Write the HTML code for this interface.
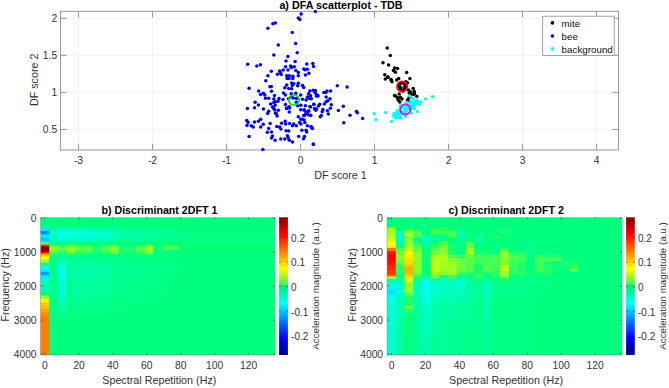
<!DOCTYPE html>
<html><head><meta charset="utf-8"><title>DFA</title><style>html,body{margin:0;padding:0;background:#fff;}svg{display:block}svg text{font-family:"Liberation Sans",sans-serif;}</style></head><body>
<svg width="669" height="388" viewBox="0 0 669 388" >
<rect width="669" height="388" fill="#fff"/>
<line x1="78.5" y1="11.3" x2="78.5" y2="150.0" stroke="#ececec" stroke-width="0.7"/>
<line x1="152.5" y1="11.3" x2="152.5" y2="150.0" stroke="#ececec" stroke-width="0.7"/>
<line x1="226.5" y1="11.3" x2="226.5" y2="150.0" stroke="#ececec" stroke-width="0.7"/>
<line x1="300.5" y1="11.3" x2="300.5" y2="150.0" stroke="#ececec" stroke-width="0.7"/>
<line x1="374.5" y1="11.3" x2="374.5" y2="150.0" stroke="#ececec" stroke-width="0.7"/>
<line x1="448.5" y1="11.3" x2="448.5" y2="150.0" stroke="#ececec" stroke-width="0.7"/>
<line x1="522.5" y1="11.3" x2="522.5" y2="150.0" stroke="#ececec" stroke-width="0.7"/>
<line x1="596.5" y1="11.3" x2="596.5" y2="150.0" stroke="#ececec" stroke-width="0.7"/>
<line x1="60.5" y1="129.5" x2="618.5" y2="129.5" stroke="#ececec" stroke-width="0.7"/>
<line x1="60.5" y1="92.4" x2="618.5" y2="92.4" stroke="#ececec" stroke-width="0.7"/>
<line x1="60.5" y1="55.3" x2="618.5" y2="55.3" stroke="#ececec" stroke-width="0.7"/>
<line x1="60.5" y1="18.2" x2="618.5" y2="18.2" stroke="#ececec" stroke-width="0.7"/>
<line x1="73.7" y1="11.3" x2="73.7" y2="150.0" stroke="#f4f4f4" stroke-width="0.7"/>
<rect x="60.5" y="11.3" width="558.0" height="138.7" fill="none" stroke="#808080" stroke-width="0.8"/>
<line x1="78.5" y1="150.0" x2="78.5" y2="143.8" stroke="#808080" stroke-width="0.8"/>
<line x1="78.5" y1="11.3" x2="78.5" y2="17.5" stroke="#808080" stroke-width="0.8"/>
<text x="78.5" y="163.7" font-size="10.3" text-anchor="middle" fill="#333">-3</text>
<line x1="152.5" y1="150.0" x2="152.5" y2="143.8" stroke="#808080" stroke-width="0.8"/>
<line x1="152.5" y1="11.3" x2="152.5" y2="17.5" stroke="#808080" stroke-width="0.8"/>
<text x="152.5" y="163.7" font-size="10.3" text-anchor="middle" fill="#333">-2</text>
<line x1="226.5" y1="150.0" x2="226.5" y2="143.8" stroke="#808080" stroke-width="0.8"/>
<line x1="226.5" y1="11.3" x2="226.5" y2="17.5" stroke="#808080" stroke-width="0.8"/>
<text x="226.5" y="163.7" font-size="10.3" text-anchor="middle" fill="#333">-1</text>
<line x1="300.5" y1="150.0" x2="300.5" y2="143.8" stroke="#808080" stroke-width="0.8"/>
<line x1="300.5" y1="11.3" x2="300.5" y2="17.5" stroke="#808080" stroke-width="0.8"/>
<text x="300.5" y="163.7" font-size="10.3" text-anchor="middle" fill="#333">0</text>
<line x1="374.5" y1="150.0" x2="374.5" y2="143.8" stroke="#808080" stroke-width="0.8"/>
<line x1="374.5" y1="11.3" x2="374.5" y2="17.5" stroke="#808080" stroke-width="0.8"/>
<text x="374.5" y="163.7" font-size="10.3" text-anchor="middle" fill="#333">1</text>
<line x1="448.5" y1="150.0" x2="448.5" y2="143.8" stroke="#808080" stroke-width="0.8"/>
<line x1="448.5" y1="11.3" x2="448.5" y2="17.5" stroke="#808080" stroke-width="0.8"/>
<text x="448.5" y="163.7" font-size="10.3" text-anchor="middle" fill="#333">2</text>
<line x1="522.5" y1="150.0" x2="522.5" y2="143.8" stroke="#808080" stroke-width="0.8"/>
<line x1="522.5" y1="11.3" x2="522.5" y2="17.5" stroke="#808080" stroke-width="0.8"/>
<text x="522.5" y="163.7" font-size="10.3" text-anchor="middle" fill="#333">3</text>
<line x1="596.5" y1="150.0" x2="596.5" y2="143.8" stroke="#808080" stroke-width="0.8"/>
<line x1="596.5" y1="11.3" x2="596.5" y2="17.5" stroke="#808080" stroke-width="0.8"/>
<text x="596.5" y="163.7" font-size="10.3" text-anchor="middle" fill="#333">4</text>
<line x1="60.5" y1="129.5" x2="66.7" y2="129.5" stroke="#808080" stroke-width="0.8"/>
<line x1="618.5" y1="129.5" x2="612.3" y2="129.5" stroke="#808080" stroke-width="0.8"/>
<text x="57.2" y="133.2" font-size="10.3" text-anchor="end" fill="#333">0.5</text>
<line x1="60.5" y1="92.4" x2="66.7" y2="92.4" stroke="#808080" stroke-width="0.8"/>
<line x1="618.5" y1="92.4" x2="612.3" y2="92.4" stroke="#808080" stroke-width="0.8"/>
<text x="57.2" y="96.1" font-size="10.3" text-anchor="end" fill="#333">1</text>
<line x1="60.5" y1="55.3" x2="66.7" y2="55.3" stroke="#808080" stroke-width="0.8"/>
<line x1="618.5" y1="55.3" x2="612.3" y2="55.3" stroke="#808080" stroke-width="0.8"/>
<text x="57.2" y="59.0" font-size="10.3" text-anchor="end" fill="#333">1.5</text>
<line x1="60.5" y1="18.2" x2="66.7" y2="18.2" stroke="#808080" stroke-width="0.8"/>
<line x1="618.5" y1="18.2" x2="612.3" y2="18.2" stroke="#808080" stroke-width="0.8"/>
<text x="57.2" y="21.9" font-size="10.3" text-anchor="end" fill="#333">2</text>
<text x="341" y="8.5" font-size="10.75" font-weight="bold" text-anchor="middle" fill="#000">a) DFA scatterplot - TDB</text>
<text x="340.5" y="178.6" font-size="10.75" text-anchor="middle" fill="#333">DF score 1</text>
<text transform="translate(37.8,79.8) rotate(-90)" font-size="10.75" text-anchor="middle" fill="#333">DF score 2</text>
<clipPath id="ca"><rect x="60.5" y="9.3" width="558.0" height="142.7"/></clipPath>
<g clip-path="url(#ca)">
<circle cx="387.2" cy="47.9" r="1.75" fill="#000"/>
<circle cx="390.3" cy="55.5" r="1.75" fill="#000"/>
<circle cx="383.0" cy="62.8" r="1.75" fill="#000"/>
<circle cx="388.6" cy="65.1" r="1.75" fill="#000"/>
<circle cx="394.6" cy="68.1" r="1.75" fill="#000"/>
<circle cx="397.5" cy="68.4" r="1.75" fill="#000"/>
<circle cx="393.4" cy="70.4" r="1.75" fill="#000"/>
<circle cx="395.4" cy="72.3" r="1.75" fill="#000"/>
<circle cx="406.7" cy="72.5" r="1.75" fill="#000"/>
<circle cx="384.8" cy="74.8" r="1.75" fill="#000"/>
<circle cx="387.9" cy="76.9" r="1.75" fill="#000"/>
<circle cx="385.3" cy="79.0" r="1.75" fill="#000"/>
<circle cx="391.0" cy="79.5" r="1.75" fill="#000"/>
<circle cx="392.0" cy="81.8" r="1.75" fill="#000"/>
<circle cx="398.7" cy="78.4" r="1.75" fill="#000"/>
<circle cx="396.7" cy="80.0" r="1.75" fill="#000"/>
<circle cx="409.9" cy="78.4" r="1.75" fill="#000"/>
<circle cx="405.9" cy="81.8" r="1.75" fill="#000"/>
<circle cx="407.5" cy="82.8" r="1.75" fill="#000"/>
<circle cx="399.2" cy="85.4" r="1.75" fill="#000"/>
<circle cx="404.9" cy="85.4" r="1.75" fill="#000"/>
<circle cx="400.8" cy="87.5" r="1.75" fill="#000"/>
<circle cx="404.4" cy="88.5" r="1.75" fill="#000"/>
<circle cx="402.8" cy="90.6" r="1.75" fill="#000"/>
<circle cx="408.5" cy="90.0" r="1.75" fill="#000"/>
<circle cx="413.2" cy="88.5" r="1.75" fill="#000"/>
<circle cx="410.6" cy="92.1" r="1.75" fill="#000"/>
<circle cx="414.2" cy="91.6" r="1.75" fill="#000"/>
<circle cx="413.7" cy="94.2" r="1.75" fill="#000"/>
<circle cx="411.1" cy="94.7" r="1.75" fill="#000"/>
<circle cx="416.8" cy="96.2" r="1.75" fill="#000"/>
<circle cx="399.2" cy="94.0" r="1.75" fill="#000"/>
<circle cx="395.6" cy="95.9" r="1.75" fill="#000"/>
<circle cx="397.5" cy="97.8" r="1.75" fill="#000"/>
<circle cx="400.3" cy="97.3" r="1.75" fill="#000"/>
<circle cx="402.0" cy="99.0" r="1.75" fill="#000"/>
<circle cx="398.2" cy="100.0" r="1.75" fill="#000"/>
<circle cx="399.8" cy="101.9" r="1.75" fill="#000"/>
<circle cx="409.0" cy="97.8" r="1.75" fill="#000"/>
<circle cx="407.5" cy="100.0" r="1.75" fill="#000"/>
<circle cx="410.1" cy="101.9" r="1.75" fill="#000"/>
<circle cx="409.2" cy="93.0" r="1.75" fill="#000"/>
<circle cx="414.3" cy="93.5" r="1.75" fill="#000"/>
<circle cx="394.5" cy="95.4" r="1.75" fill="#000"/>
<circle cx="388.0" cy="77.3" r="1.75" fill="#000"/>
<circle cx="391.2" cy="79.9" r="1.75" fill="#000"/>
<circle cx="399.6" cy="83.6" r="1.75" fill="#000"/>
<circle cx="404.6" cy="83.8" r="1.75" fill="#000"/>
<circle cx="400.2" cy="89.2" r="1.75" fill="#000"/>
<circle cx="405.2" cy="88.6" r="1.75" fill="#000"/>
<circle cx="402.2" cy="83.0" r="1.75" fill="#000"/>
<circle cx="399.0" cy="87.0" r="1.75" fill="#000"/>
<circle cx="405.5" cy="86.3" r="1.75" fill="#000"/>
<circle cx="403.0" cy="90.9" r="1.75" fill="#000"/>
<circle cx="315.3" cy="11.5" r="1.75" fill="#0000ff"/>
<circle cx="301.2" cy="14.0" r="1.75" fill="#0000ff"/>
<circle cx="298.3" cy="17.9" r="1.75" fill="#0000ff"/>
<circle cx="299.8" cy="19.4" r="1.75" fill="#0000ff"/>
<circle cx="272.8" cy="23.7" r="1.75" fill="#0000ff"/>
<circle cx="275.3" cy="23.1" r="1.75" fill="#0000ff"/>
<circle cx="267.9" cy="28.3" r="1.75" fill="#0000ff"/>
<circle cx="292.3" cy="32.6" r="1.75" fill="#0000ff"/>
<circle cx="295.6" cy="43.4" r="1.75" fill="#0000ff"/>
<circle cx="278.3" cy="45.0" r="1.75" fill="#0000ff"/>
<circle cx="297.2" cy="52.7" r="1.75" fill="#0000ff"/>
<circle cx="273.8" cy="54.9" r="1.75" fill="#0000ff"/>
<circle cx="287.9" cy="56.4" r="1.75" fill="#0000ff"/>
<circle cx="286.0" cy="61.0" r="1.75" fill="#0000ff"/>
<circle cx="295.1" cy="61.6" r="1.75" fill="#0000ff"/>
<circle cx="247.7" cy="64.2" r="1.75" fill="#0000ff"/>
<circle cx="256.8" cy="66.1" r="1.75" fill="#0000ff"/>
<circle cx="260.4" cy="64.8" r="1.75" fill="#0000ff"/>
<circle cx="306.8" cy="63.9" r="1.75" fill="#0000ff"/>
<circle cx="312.8" cy="63.5" r="1.75" fill="#0000ff"/>
<circle cx="313.5" cy="66.6" r="1.75" fill="#0000ff"/>
<circle cx="285.6" cy="66.8" r="1.75" fill="#0000ff"/>
<circle cx="290.6" cy="66.1" r="1.75" fill="#0000ff"/>
<circle cx="294.2" cy="66.8" r="1.75" fill="#0000ff"/>
<circle cx="303.7" cy="69.1" r="1.75" fill="#0000ff"/>
<circle cx="307.4" cy="69.3" r="1.75" fill="#0000ff"/>
<circle cx="283.2" cy="70.0" r="1.75" fill="#0000ff"/>
<circle cx="288.0" cy="70.0" r="1.75" fill="#0000ff"/>
<circle cx="295.8" cy="70.4" r="1.75" fill="#0000ff"/>
<circle cx="279.6" cy="71.0" r="1.75" fill="#0000ff"/>
<circle cx="271.3" cy="71.3" r="1.75" fill="#0000ff"/>
<circle cx="298.3" cy="72.6" r="1.75" fill="#0000ff"/>
<circle cx="308.9" cy="73.2" r="1.75" fill="#0000ff"/>
<circle cx="277.4" cy="74.2" r="1.75" fill="#0000ff"/>
<circle cx="281.2" cy="74.5" r="1.75" fill="#0000ff"/>
<circle cx="305.4" cy="75.1" r="1.75" fill="#0000ff"/>
<circle cx="267.9" cy="75.8" r="1.75" fill="#0000ff"/>
<circle cx="286.7" cy="75.8" r="1.75" fill="#0000ff"/>
<circle cx="289.3" cy="75.8" r="1.75" fill="#0000ff"/>
<circle cx="292.9" cy="76.2" r="1.75" fill="#0000ff"/>
<circle cx="298.3" cy="75.8" r="1.75" fill="#0000ff"/>
<circle cx="287.1" cy="78.4" r="1.75" fill="#0000ff"/>
<circle cx="289.1" cy="78.6" r="1.75" fill="#0000ff"/>
<circle cx="292.8" cy="78.6" r="1.75" fill="#0000ff"/>
<circle cx="265.8" cy="80.7" r="1.75" fill="#0000ff"/>
<circle cx="291.6" cy="82.9" r="1.75" fill="#0000ff"/>
<circle cx="293.8" cy="83.8" r="1.75" fill="#0000ff"/>
<circle cx="298.3" cy="83.3" r="1.75" fill="#0000ff"/>
<circle cx="286.7" cy="85.1" r="1.75" fill="#0000ff"/>
<circle cx="292.3" cy="85.5" r="1.75" fill="#0000ff"/>
<circle cx="297.7" cy="85.8" r="1.75" fill="#0000ff"/>
<circle cx="302.5" cy="85.5" r="1.75" fill="#0000ff"/>
<circle cx="270.0" cy="86.7" r="1.75" fill="#0000ff"/>
<circle cx="271.3" cy="86.4" r="1.75" fill="#0000ff"/>
<circle cx="303.7" cy="87.4" r="1.75" fill="#0000ff"/>
<circle cx="249.1" cy="88.3" r="1.75" fill="#0000ff"/>
<circle cx="284.8" cy="87.8" r="1.75" fill="#0000ff"/>
<circle cx="288.7" cy="88.4" r="1.75" fill="#0000ff"/>
<circle cx="291.6" cy="88.7" r="1.75" fill="#0000ff"/>
<circle cx="258.6" cy="91.0" r="1.75" fill="#0000ff"/>
<circle cx="271.5" cy="91.3" r="1.75" fill="#0000ff"/>
<circle cx="309.9" cy="91.0" r="1.75" fill="#0000ff"/>
<circle cx="313.2" cy="90.2" r="1.75" fill="#0000ff"/>
<circle cx="283.5" cy="92.9" r="1.75" fill="#0000ff"/>
<circle cx="263.3" cy="93.2" r="1.75" fill="#0000ff"/>
<circle cx="260.6" cy="94.5" r="1.75" fill="#0000ff"/>
<circle cx="285.4" cy="95.1" r="1.75" fill="#0000ff"/>
<circle cx="274.5" cy="95.4" r="1.75" fill="#0000ff"/>
<circle cx="264.8" cy="95.1" r="1.75" fill="#0000ff"/>
<circle cx="300.7" cy="94.9" r="1.75" fill="#0000ff"/>
<circle cx="308.6" cy="93.8" r="1.75" fill="#0000ff"/>
<circle cx="295.8" cy="93.2" r="1.75" fill="#0000ff"/>
<circle cx="291.2" cy="93.8" r="1.75" fill="#0000ff"/>
<circle cx="265.5" cy="98.3" r="1.75" fill="#0000ff"/>
<circle cx="268.7" cy="98.3" r="1.75" fill="#0000ff"/>
<circle cx="273.8" cy="99.0" r="1.75" fill="#0000ff"/>
<circle cx="307.4" cy="97.1" r="1.75" fill="#0000ff"/>
<circle cx="310.6" cy="95.8" r="1.75" fill="#0000ff"/>
<circle cx="315.1" cy="92.5" r="1.75" fill="#0000ff"/>
<circle cx="279.0" cy="98.5" r="1.75" fill="#0000ff"/>
<circle cx="283.0" cy="99.5" r="1.75" fill="#0000ff"/>
<circle cx="288.5" cy="98.8" r="1.75" fill="#0000ff"/>
<circle cx="297.5" cy="98.2" r="1.75" fill="#0000ff"/>
<circle cx="302.5" cy="99.3" r="1.75" fill="#0000ff"/>
<circle cx="255.1" cy="102.3" r="1.75" fill="#0000ff"/>
<circle cx="258.4" cy="104.9" r="1.75" fill="#0000ff"/>
<circle cx="270.6" cy="103.9" r="1.75" fill="#0000ff"/>
<circle cx="273.8" cy="102.6" r="1.75" fill="#0000ff"/>
<circle cx="275.1" cy="105.2" r="1.75" fill="#0000ff"/>
<circle cx="272.5" cy="107.1" r="1.75" fill="#0000ff"/>
<circle cx="247.4" cy="108.4" r="1.75" fill="#0000ff"/>
<circle cx="254.5" cy="107.7" r="1.75" fill="#0000ff"/>
<circle cx="263.5" cy="109.0" r="1.75" fill="#0000ff"/>
<circle cx="285.4" cy="104.5" r="1.75" fill="#0000ff"/>
<circle cx="286.7" cy="108.4" r="1.75" fill="#0000ff"/>
<circle cx="289.6" cy="108.0" r="1.75" fill="#0000ff"/>
<circle cx="289.3" cy="111.9" r="1.75" fill="#0000ff"/>
<circle cx="268.7" cy="111.3" r="1.75" fill="#0000ff"/>
<circle cx="267.6" cy="113.5" r="1.75" fill="#0000ff"/>
<circle cx="274.5" cy="109.7" r="1.75" fill="#0000ff"/>
<circle cx="278.3" cy="110.3" r="1.75" fill="#0000ff"/>
<circle cx="275.4" cy="112.9" r="1.75" fill="#0000ff"/>
<circle cx="277.1" cy="116.1" r="1.75" fill="#0000ff"/>
<circle cx="297.7" cy="105.8" r="1.75" fill="#0000ff"/>
<circle cx="300.9" cy="105.2" r="1.75" fill="#0000ff"/>
<circle cx="300.7" cy="109.7" r="1.75" fill="#0000ff"/>
<circle cx="304.1" cy="109.7" r="1.75" fill="#0000ff"/>
<circle cx="305.4" cy="105.8" r="1.75" fill="#0000ff"/>
<circle cx="307.4" cy="112.9" r="1.75" fill="#0000ff"/>
<circle cx="309.9" cy="106.4" r="1.75" fill="#0000ff"/>
<circle cx="313.8" cy="104.5" r="1.75" fill="#0000ff"/>
<circle cx="314.5" cy="109.0" r="1.75" fill="#0000ff"/>
<circle cx="308.6" cy="111.0" r="1.75" fill="#0000ff"/>
<circle cx="310.6" cy="115.5" r="1.75" fill="#0000ff"/>
<circle cx="304.1" cy="115.5" r="1.75" fill="#0000ff"/>
<circle cx="298.3" cy="116.8" r="1.75" fill="#0000ff"/>
<circle cx="300.9" cy="119.3" r="1.75" fill="#0000ff"/>
<circle cx="304.1" cy="120.0" r="1.75" fill="#0000ff"/>
<circle cx="246.8" cy="120.6" r="1.75" fill="#0000ff"/>
<circle cx="248.1" cy="122.6" r="1.75" fill="#0000ff"/>
<circle cx="247.0" cy="125.5" r="1.75" fill="#0000ff"/>
<circle cx="254.5" cy="121.9" r="1.75" fill="#0000ff"/>
<circle cx="258.4" cy="121.3" r="1.75" fill="#0000ff"/>
<circle cx="260.7" cy="119.3" r="1.75" fill="#0000ff"/>
<circle cx="263.3" cy="124.2" r="1.75" fill="#0000ff"/>
<circle cx="251.3" cy="125.8" r="1.75" fill="#0000ff"/>
<circle cx="253.2" cy="127.1" r="1.75" fill="#0000ff"/>
<circle cx="260.7" cy="127.1" r="1.75" fill="#0000ff"/>
<circle cx="270.2" cy="123.5" r="1.75" fill="#0000ff"/>
<circle cx="285.2" cy="121.3" r="1.75" fill="#0000ff"/>
<circle cx="281.6" cy="123.2" r="1.75" fill="#0000ff"/>
<circle cx="285.7" cy="123.9" r="1.75" fill="#0000ff"/>
<circle cx="289.6" cy="123.5" r="1.75" fill="#0000ff"/>
<circle cx="293.8" cy="123.9" r="1.75" fill="#0000ff"/>
<circle cx="292.5" cy="125.8" r="1.75" fill="#0000ff"/>
<circle cx="296.4" cy="125.8" r="1.75" fill="#0000ff"/>
<circle cx="299.6" cy="122.6" r="1.75" fill="#0000ff"/>
<circle cx="300.9" cy="123.9" r="1.75" fill="#0000ff"/>
<circle cx="304.8" cy="122.6" r="1.75" fill="#0000ff"/>
<circle cx="307.4" cy="125.8" r="1.75" fill="#0000ff"/>
<circle cx="311.2" cy="127.1" r="1.75" fill="#0000ff"/>
<circle cx="312.5" cy="128.4" r="1.75" fill="#0000ff"/>
<circle cx="276.7" cy="126.4" r="1.75" fill="#0000ff"/>
<circle cx="279.6" cy="127.1" r="1.75" fill="#0000ff"/>
<circle cx="280.9" cy="129.0" r="1.75" fill="#0000ff"/>
<circle cx="268.7" cy="128.4" r="1.75" fill="#0000ff"/>
<circle cx="267.4" cy="132.2" r="1.75" fill="#0000ff"/>
<circle cx="271.5" cy="132.0" r="1.75" fill="#0000ff"/>
<circle cx="286.1" cy="130.7" r="1.75" fill="#0000ff"/>
<circle cx="288.7" cy="130.9" r="1.75" fill="#0000ff"/>
<circle cx="301.9" cy="130.3" r="1.75" fill="#0000ff"/>
<circle cx="306.1" cy="130.3" r="1.75" fill="#0000ff"/>
<circle cx="306.7" cy="132.0" r="1.75" fill="#0000ff"/>
<circle cx="249.1" cy="136.5" r="1.75" fill="#0000ff"/>
<circle cx="272.5" cy="136.1" r="1.75" fill="#0000ff"/>
<circle cx="271.5" cy="138.0" r="1.75" fill="#0000ff"/>
<circle cx="275.1" cy="140.2" r="1.75" fill="#0000ff"/>
<circle cx="280.7" cy="139.1" r="1.75" fill="#0000ff"/>
<circle cx="284.8" cy="139.1" r="1.75" fill="#0000ff"/>
<circle cx="287.4" cy="135.8" r="1.75" fill="#0000ff"/>
<circle cx="288.3" cy="138.0" r="1.75" fill="#0000ff"/>
<circle cx="289.3" cy="140.2" r="1.75" fill="#0000ff"/>
<circle cx="292.5" cy="141.9" r="1.75" fill="#0000ff"/>
<circle cx="298.7" cy="136.5" r="1.75" fill="#0000ff"/>
<circle cx="304.5" cy="136.4" r="1.75" fill="#0000ff"/>
<circle cx="303.5" cy="138.7" r="1.75" fill="#0000ff"/>
<circle cx="313.5" cy="144.5" r="1.75" fill="#0000ff"/>
<circle cx="262.9" cy="149.4" r="1.75" fill="#0000ff"/>
<circle cx="304.2" cy="110.3" r="1.75" fill="#0000ff"/>
<circle cx="306.1" cy="111.9" r="1.75" fill="#0000ff"/>
<circle cx="308.7" cy="110.9" r="1.75" fill="#0000ff"/>
<circle cx="305.5" cy="114.1" r="1.75" fill="#0000ff"/>
<circle cx="308.0" cy="114.8" r="1.75" fill="#0000ff"/>
<circle cx="303.9" cy="115.4" r="1.75" fill="#0000ff"/>
<circle cx="302.3" cy="119.3" r="1.75" fill="#0000ff"/>
<circle cx="306.1" cy="99.9" r="1.75" fill="#0000ff"/>
<circle cx="309.4" cy="98.6" r="1.75" fill="#0000ff"/>
<circle cx="291.3" cy="67.6" r="1.75" fill="#0000ff"/>
<circle cx="280.3" cy="72.6" r="1.75" fill="#0000ff"/>
<circle cx="305.2" cy="69.8" r="1.75" fill="#0000ff"/>
<circle cx="293.4" cy="98.1" r="1.75" fill="#0000ff"/>
<circle cx="296.3" cy="98.4" r="1.75" fill="#0000ff"/>
<circle cx="296.3" cy="102.3" r="1.75" fill="#0000ff"/>
<circle cx="291.1" cy="97.1" r="1.75" fill="#0000ff"/>
<circle cx="273.8" cy="108.5" r="1.75" fill="#0000ff"/>
<circle cx="276.3" cy="113.6" r="1.75" fill="#0000ff"/>
<circle cx="278.0" cy="101.3" r="1.75" fill="#0000ff"/>
<circle cx="275.5" cy="101.7" r="1.75" fill="#0000ff"/>
<circle cx="289.1" cy="106.8" r="1.75" fill="#0000ff"/>
<circle cx="286.6" cy="108.1" r="1.75" fill="#0000ff"/>
<circle cx="337.3" cy="85.8" r="1.75" fill="#0000ff"/>
<circle cx="347.1" cy="87.0" r="1.75" fill="#0000ff"/>
<circle cx="315.4" cy="90.6" r="1.75" fill="#0000ff"/>
<circle cx="327.0" cy="91.0" r="1.75" fill="#0000ff"/>
<circle cx="330.6" cy="91.0" r="1.75" fill="#0000ff"/>
<circle cx="323.9" cy="92.5" r="1.75" fill="#0000ff"/>
<circle cx="325.7" cy="92.5" r="1.75" fill="#0000ff"/>
<circle cx="316.4" cy="94.5" r="1.75" fill="#0000ff"/>
<circle cx="317.7" cy="95.4" r="1.75" fill="#0000ff"/>
<circle cx="326.1" cy="97.1" r="1.75" fill="#0000ff"/>
<circle cx="330.0" cy="98.7" r="1.75" fill="#0000ff"/>
<circle cx="311.3" cy="98.7" r="1.75" fill="#0000ff"/>
<circle cx="316.4" cy="96.0" r="1.75" fill="#0000ff"/>
<circle cx="318.0" cy="96.0" r="1.75" fill="#0000ff"/>
<circle cx="327.8" cy="100.8" r="1.75" fill="#0000ff"/>
<circle cx="326.1" cy="101.7" r="1.75" fill="#0000ff"/>
<circle cx="324.4" cy="104.0" r="1.75" fill="#0000ff"/>
<circle cx="331.3" cy="104.7" r="1.75" fill="#0000ff"/>
<circle cx="313.9" cy="104.3" r="1.75" fill="#0000ff"/>
<circle cx="319.7" cy="104.3" r="1.75" fill="#0000ff"/>
<circle cx="318.4" cy="106.0" r="1.75" fill="#0000ff"/>
<circle cx="310.6" cy="106.9" r="1.75" fill="#0000ff"/>
<circle cx="314.9" cy="108.5" r="1.75" fill="#0000ff"/>
<circle cx="316.4" cy="108.9" r="1.75" fill="#0000ff"/>
<circle cx="315.8" cy="110.2" r="1.75" fill="#0000ff"/>
<circle cx="322.9" cy="109.4" r="1.75" fill="#0000ff"/>
<circle cx="330.4" cy="108.3" r="1.75" fill="#0000ff"/>
<circle cx="327.4" cy="110.7" r="1.75" fill="#0000ff"/>
<circle cx="322.2" cy="111.8" r="1.75" fill="#0000ff"/>
<circle cx="328.3" cy="114.1" r="1.75" fill="#0000ff"/>
<circle cx="321.3" cy="115.6" r="1.75" fill="#0000ff"/>
<circle cx="320.3" cy="116.7" r="1.75" fill="#0000ff"/>
<circle cx="310.6" cy="115.2" r="1.75" fill="#0000ff"/>
<circle cx="343.3" cy="106.3" r="1.75" fill="#0000ff"/>
<circle cx="338.4" cy="110.5" r="1.75" fill="#0000ff"/>
<circle cx="356.4" cy="111.4" r="1.75" fill="#0000ff"/>
<circle cx="357.4" cy="112.8" r="1.75" fill="#0000ff"/>
<circle cx="350.0" cy="115.2" r="1.75" fill="#0000ff"/>
<circle cx="362.6" cy="118.6" r="1.75" fill="#0000ff"/>
<circle cx="343.8" cy="122.7" r="1.75" fill="#0000ff"/>
<circle cx="311.0" cy="126.6" r="1.75" fill="#0000ff"/>
<circle cx="312.3" cy="128.3" r="1.75" fill="#0000ff"/>
<circle cx="313.2" cy="144.0" r="1.75" fill="#0000ff"/>
<circle cx="374.3" cy="113.8" r="1.75" fill="#00ffff"/>
<circle cx="385.7" cy="112.4" r="1.75" fill="#00ffff"/>
<circle cx="376.0" cy="119.8" r="1.75" fill="#00ffff"/>
<circle cx="391.6" cy="121.4" r="1.75" fill="#00ffff"/>
<circle cx="432.5" cy="96.7" r="1.75" fill="#00ffff"/>
<circle cx="425.5" cy="99.0" r="1.75" fill="#00ffff"/>
<circle cx="420.8" cy="102.3" r="1.75" fill="#00ffff"/>
<circle cx="417.2" cy="111.6" r="1.75" fill="#00ffff"/>
<circle cx="409.6" cy="96.1" r="1.75" fill="#00ffff"/>
<circle cx="413.3" cy="98.4" r="1.75" fill="#00ffff"/>
<circle cx="416.8" cy="100.4" r="1.75" fill="#00ffff"/>
<circle cx="407.0" cy="102.4" r="1.75" fill="#00ffff"/>
<circle cx="394.8" cy="113.7" r="1.75" fill="#00ffff"/>
<circle cx="393.7" cy="116.2" r="1.75" fill="#00ffff"/>
<circle cx="395.8" cy="117.8" r="1.75" fill="#00ffff"/>
<circle cx="400.4" cy="117.8" r="1.75" fill="#00ffff"/>
<circle cx="405.6" cy="116.2" r="1.75" fill="#00ffff"/>
<circle cx="411.3" cy="113.1" r="1.75" fill="#00ffff"/>
<circle cx="397.3" cy="111.1" r="1.75" fill="#00ffff"/>
<circle cx="400.9" cy="105.4" r="1.75" fill="#00ffff"/>
<circle cx="406.1" cy="102.8" r="1.75" fill="#00ffff"/>
<circle cx="415.4" cy="103.3" r="1.75" fill="#00ffff"/>
<circle cx="417.4" cy="100.8" r="1.75" fill="#00ffff"/>
<circle cx="414.3" cy="106.4" r="1.75" fill="#00ffff"/>
<circle cx="411.3" cy="108.5" r="1.75" fill="#00ffff"/>
<circle cx="402.7" cy="106.7" r="1.75" fill="#00ffff"/>
<circle cx="404.3" cy="108.5" r="1.75" fill="#00ffff"/>
<circle cx="405.6" cy="108.3" r="1.75" fill="#00ffff"/>
<circle cx="405.9" cy="108.5" r="1.75" fill="#00ffff"/>
<circle cx="409.1" cy="107.4" r="1.75" fill="#00ffff"/>
<circle cx="401.0" cy="111.6" r="1.75" fill="#00ffff"/>
<circle cx="397.2" cy="116.5" r="1.75" fill="#00ffff"/>
<circle cx="393.9" cy="114.1" r="1.75" fill="#00ffff"/>
<circle cx="418.6" cy="104.0" r="1.75" fill="#00ffff"/>
<circle cx="408.3" cy="107.0" r="1.75" fill="#00ffff"/>
<circle cx="399.4" cy="116.5" r="1.75" fill="#00ffff"/>
<circle cx="396.0" cy="116.3" r="1.75" fill="#00ffff"/>
<circle cx="398.9" cy="114.1" r="1.75" fill="#00ffff"/>
<circle cx="405.4" cy="110.2" r="1.75" fill="#00ffff"/>
<circle cx="405.3" cy="111.2" r="1.75" fill="#00ffff"/>
<circle cx="408.2" cy="105.5" r="1.75" fill="#00ffff"/>
<circle cx="405.4" cy="108.3" r="1.75" fill="#00ffff"/>
<circle cx="399.9" cy="111.2" r="1.75" fill="#00ffff"/>
<circle cx="419.5" cy="104.6" r="1.75" fill="#00ffff"/>
<circle cx="410.7" cy="105.9" r="1.75" fill="#00ffff"/>
<circle cx="401.9" cy="112.3" r="1.75" fill="#00ffff"/>
<circle cx="397.0" cy="117.2" r="1.75" fill="#00ffff"/>
<circle cx="410.5" cy="102.6" r="1.75" fill="#00ffff"/>
<circle cx="404.6" cy="112.8" r="1.75" fill="#00ffff"/>
<circle cx="416.6" cy="102.2" r="1.75" fill="#00ffff"/>
<circle cx="399.3" cy="113.7" r="1.75" fill="#00ffff"/>
<circle cx="412.5" cy="98.5" r="1.75" fill="#00ffff"/>
<circle cx="404.2" cy="111.7" r="1.75" fill="#00ffff"/>
<circle cx="394.9" cy="114.0" r="1.75" fill="#00ffff"/>
<circle cx="399.4" cy="110.8" r="1.75" fill="#00ffff"/>
<circle cx="395.1" cy="113.6" r="1.75" fill="#00ffff"/>
<circle cx="414.3" cy="108.8" r="1.75" fill="#00ffff"/>
<circle cx="397.2" cy="115.2" r="1.75" fill="#00ffff"/>
<circle cx="396.4" cy="116.8" r="1.75" fill="#00ffff"/>
<circle cx="413.4" cy="105.5" r="1.75" fill="#00ffff"/>
<circle cx="406.0" cy="111.9" r="1.75" fill="#00ffff"/>
<circle cx="398.8" cy="113.9" r="1.75" fill="#00ffff"/>
<circle cx="408.7" cy="106.2" r="1.75" fill="#00ffff"/>
<circle cx="396.5" cy="114.2" r="1.75" fill="#00ffff"/>
<circle cx="401.1" cy="113.3" r="1.75" fill="#00ffff"/>
<circle cx="417.1" cy="102.4" r="1.75" fill="#00ffff"/>
<circle cx="414.0" cy="102.0" r="1.75" fill="#00ffff"/>
<circle cx="397.7" cy="111.3" r="1.75" fill="#00ffff"/>
<circle cx="410.5" cy="109.0" r="1.75" fill="#00ffff"/>
<circle cx="397.5" cy="116.5" r="1.75" fill="#00ffff"/>
<circle cx="400.4" cy="112.9" r="1.75" fill="#00ffff"/>
<circle cx="411.8" cy="104.4" r="1.75" fill="#00ffff"/>
<circle cx="397.0" cy="117.0" r="1.75" fill="#00ffff"/>
<circle cx="395.9" cy="114.6" r="1.75" fill="#00ffff"/>
<circle cx="407.9" cy="107.1" r="1.75" fill="#00ffff"/>
<circle cx="400.5" cy="107.4" r="1.75" fill="#00ffff"/>
<circle cx="406.4" cy="110.7" r="1.75" fill="#00ffff"/>
<circle cx="408.2" cy="108.8" r="1.75" fill="#00ffff"/>
<circle cx="397.5" cy="113.9" r="1.75" fill="#00ffff"/>
<circle cx="415.7" cy="103.4" r="1.75" fill="#00ffff"/>
<circle cx="398.1" cy="113.0" r="1.75" fill="#00ffff"/>
<circle cx="412.2" cy="106.5" r="1.75" fill="#00ffff"/>
<circle cx="416.1" cy="101.9" r="1.75" fill="#00ffff"/>
<circle cx="413.9" cy="102.0" r="1.75" fill="#00ffff"/>
<circle cx="396.2" cy="114.4" r="1.75" fill="#00ffff"/>
<circle cx="396.2" cy="117.5" r="1.75" fill="#00ffff"/>
<circle cx="410.5" cy="105.8" r="1.75" fill="#00ffff"/>
<circle cx="401.1" cy="114.0" r="1.75" fill="#00ffff"/>
<circle cx="400.0" cy="110.6" r="1.75" fill="#00ffff"/>
<circle cx="398.5" cy="114.2" r="1.75" fill="#00ffff"/>
<circle cx="399.4" cy="112.9" r="1.75" fill="#00ffff"/>
<circle cx="408.2" cy="109.6" r="1.75" fill="#00ffff"/>
<circle cx="399.8" cy="110.9" r="1.75" fill="#00ffff"/>
<circle cx="415.7" cy="102.9" r="1.75" fill="#00ffff"/>
<circle cx="400.9" cy="113.1" r="1.75" fill="#00ffff"/>
</g>
<circle cx="402.2" cy="86.6" r="5.0" fill="none" stroke="#ff0000" stroke-width="2"/>
<circle cx="293.9" cy="100.0" r="5.2" fill="none" stroke="#00ea00" stroke-width="1.8"/>
<circle cx="405.4" cy="109.6" r="5.0" fill="none" stroke="#ff00ff" stroke-width="2"/>
<rect x="542.7" y="16.2" width="71.5" height="39.2" fill="#fff" stroke="#8c8c8c" stroke-width="0.8"/>
<circle cx="552.4" cy="22.9" r="1.8" fill="#000"/>
<text x="561.6" y="26.6" font-size="9.8" fill="#111">mite</text>
<circle cx="552.4" cy="36.0" r="1.8" fill="#0000ff"/>
<text x="561.6" y="39.7" font-size="9.8" fill="#111">bee</text>
<circle cx="552.4" cy="48.9" r="1.8" fill="#00ffff"/>
<text x="561.6" y="52.6" font-size="9.8" fill="#111">background</text>
<clipPath id="ch1"><rect x="40.6" y="217.3" width="234.60" height="137.70"/></clipPath>
<filter id="bl1" x="-5%" y="-5%" width="110%" height="110%"><feGaussianBlur stdDeviation="0.7"/></filter>
<g clip-path="url(#ch1)"><g filter="url(#bl1)">
<rect x="36.6" y="213.3" width="242.60" height="145.70" fill="#00ff7d"/>
<rect x="36.60" y="213.30" width="13.39" height="11.50" fill="#00ff7d"/>
<rect x="36.60" y="224.10" width="13.39" height="4.10" fill="#00ff86"/>
<rect x="36.60" y="227.50" width="13.39" height="4.10" fill="#00edff"/>
<rect x="36.60" y="230.90" width="13.39" height="4.10" fill="#0089ff"/>
<rect x="36.60" y="234.30" width="13.39" height="4.10" fill="#00edff"/>
<rect x="36.60" y="237.70" width="13.39" height="4.10" fill="#00c9ff"/>
<rect x="36.60" y="241.10" width="13.39" height="2.40" fill="#00ffc7"/>
<rect x="36.60" y="242.80" width="13.39" height="2.40" fill="#78ff34"/>
<rect x="36.60" y="244.50" width="13.39" height="2.40" fill="#ff2e00"/>
<rect x="36.60" y="246.20" width="13.39" height="2.40" fill="#920000"/>
<rect x="36.60" y="247.90" width="13.39" height="2.40" fill="#800000"/>
<rect x="36.60" y="249.60" width="13.39" height="2.40" fill="#920000"/>
<rect x="36.60" y="251.30" width="13.39" height="2.40" fill="#f60000"/>
<rect x="36.60" y="253.00" width="13.39" height="2.40" fill="#ff6e00"/>
<rect x="36.60" y="254.70" width="13.39" height="2.40" fill="#ffc900"/>
<rect x="36.60" y="256.40" width="13.39" height="2.40" fill="#fff600"/>
<rect x="36.60" y="258.10" width="13.39" height="2.40" fill="#ffff00"/>
<rect x="36.60" y="259.80" width="13.39" height="2.40" fill="#adff1d"/>
<rect x="36.60" y="261.50" width="13.39" height="2.40" fill="#8cff28"/>
<rect x="36.60" y="263.20" width="13.39" height="2.40" fill="#00ff7d"/>
<rect x="36.60" y="264.90" width="13.39" height="2.40" fill="#00ffc7"/>
<rect x="36.60" y="266.60" width="13.39" height="2.40" fill="#00ffff"/>
<rect x="36.60" y="268.30" width="13.39" height="2.40" fill="#00f6ff"/>
<rect x="36.60" y="270.00" width="13.39" height="2.40" fill="#00f0ff"/>
<rect x="36.60" y="271.70" width="13.39" height="4.10" fill="#009bff"/>
<rect x="36.60" y="275.10" width="13.39" height="4.10" fill="#00edff"/>
<rect x="36.60" y="278.50" width="13.39" height="4.10" fill="#00ffda"/>
<rect x="36.60" y="281.90" width="13.39" height="4.10" fill="#00ffb5"/>
<rect x="36.60" y="285.30" width="13.39" height="4.10" fill="#00ffab"/>
<rect x="36.60" y="288.70" width="13.39" height="4.10" fill="#00ffb5"/>
<rect x="36.60" y="292.10" width="13.39" height="4.10" fill="#00ff7d"/>
<rect x="36.60" y="295.50" width="13.39" height="4.10" fill="#9cff22"/>
<rect x="36.60" y="298.90" width="13.39" height="4.10" fill="#fff600"/>
<rect x="36.60" y="302.30" width="13.39" height="4.10" fill="#ffd200"/>
<rect x="36.60" y="305.70" width="13.39" height="4.10" fill="#ffc000"/>
<rect x="36.60" y="309.10" width="13.39" height="4.10" fill="#ffa400"/>
<rect x="36.60" y="312.50" width="13.39" height="4.10" fill="#ff8d00"/>
<rect x="36.60" y="315.90" width="13.39" height="43.80" fill="#ff8000"/>
<rect x="49.29" y="213.30" width="9.39" height="14.90" fill="#00ff7d"/>
<rect x="49.29" y="227.50" width="9.39" height="4.10" fill="#00ff99"/>
<rect x="49.29" y="230.90" width="9.39" height="7.50" fill="#00ffc7"/>
<rect x="49.29" y="237.70" width="9.39" height="4.10" fill="#00ffbe"/>
<rect x="49.29" y="241.10" width="9.39" height="2.40" fill="#00ff99"/>
<rect x="49.29" y="242.80" width="9.39" height="2.40" fill="#00ff8b"/>
<rect x="49.29" y="244.50" width="9.39" height="2.40" fill="#28ff65"/>
<rect x="49.29" y="246.20" width="9.39" height="2.40" fill="#82ff2e"/>
<rect x="49.29" y="247.90" width="9.39" height="2.40" fill="#8fff27"/>
<rect x="49.29" y="249.60" width="9.39" height="2.40" fill="#82ff2e"/>
<rect x="49.29" y="251.30" width="9.39" height="2.40" fill="#50ff4c"/>
<rect x="49.29" y="253.00" width="9.39" height="2.40" fill="#38ff5b"/>
<rect x="49.29" y="254.70" width="9.39" height="4.10" fill="#00ff82"/>
<rect x="49.29" y="258.10" width="9.39" height="4.10" fill="#00ff87"/>
<rect x="49.29" y="261.50" width="9.39" height="4.10" fill="#00ff8c"/>
<rect x="49.29" y="264.90" width="9.39" height="14.30" fill="#00ff90"/>
<rect x="49.29" y="278.50" width="9.39" height="21.10" fill="#00ff8b"/>
<rect x="49.29" y="298.90" width="9.39" height="4.10" fill="#00ff86"/>
<rect x="49.29" y="302.30" width="9.39" height="4.10" fill="#00ff85"/>
<rect x="49.29" y="305.70" width="9.39" height="4.10" fill="#00ff83"/>
<rect x="49.29" y="309.10" width="9.39" height="4.10" fill="#00ff82"/>
<rect x="49.29" y="312.50" width="9.39" height="4.10" fill="#00ff80"/>
<rect x="49.29" y="315.90" width="9.39" height="4.10" fill="#00ff7f"/>
<rect x="49.29" y="319.30" width="9.39" height="40.40" fill="#00ff7d"/>
<rect x="57.98" y="213.30" width="9.39" height="14.90" fill="#00ff7d"/>
<rect x="57.98" y="227.50" width="9.39" height="4.10" fill="#00ffb5"/>
<rect x="57.98" y="230.90" width="9.39" height="4.10" fill="#00ffff"/>
<rect x="57.98" y="234.30" width="9.39" height="4.10" fill="#00ffec"/>
<rect x="57.98" y="237.70" width="9.39" height="4.10" fill="#00ffd1"/>
<rect x="57.98" y="241.10" width="9.39" height="2.40" fill="#00ffa2"/>
<rect x="57.98" y="242.80" width="9.39" height="2.40" fill="#00ff90"/>
<rect x="57.98" y="244.50" width="9.39" height="2.40" fill="#14ff71"/>
<rect x="57.98" y="246.20" width="9.39" height="2.40" fill="#4fff4d"/>
<rect x="57.98" y="247.90" width="9.39" height="2.40" fill="#58ff48"/>
<rect x="57.98" y="249.60" width="9.39" height="2.40" fill="#4fff4d"/>
<rect x="57.98" y="251.30" width="9.39" height="2.40" fill="#28ff65"/>
<rect x="57.98" y="253.00" width="9.39" height="2.40" fill="#1cff6c"/>
<rect x="57.98" y="254.70" width="9.39" height="4.10" fill="#00ff95"/>
<rect x="57.98" y="258.10" width="9.39" height="4.10" fill="#00ffac"/>
<rect x="57.98" y="261.50" width="9.39" height="4.10" fill="#00ffc4"/>
<rect x="57.98" y="264.90" width="9.39" height="14.30" fill="#00ffe5"/>
<rect x="57.98" y="278.50" width="9.39" height="10.90" fill="#00ffcd"/>
<rect x="57.98" y="288.70" width="9.39" height="4.10" fill="#00ffcb"/>
<rect x="57.98" y="292.10" width="9.39" height="4.10" fill="#00ffd1"/>
<rect x="57.98" y="295.50" width="9.39" height="4.10" fill="#00ffcd"/>
<rect x="57.98" y="298.90" width="9.39" height="4.10" fill="#00ffb5"/>
<rect x="57.98" y="302.30" width="9.39" height="4.10" fill="#00ffab"/>
<rect x="57.98" y="305.70" width="9.39" height="4.10" fill="#00ffa2"/>
<rect x="57.98" y="309.10" width="9.39" height="4.10" fill="#00ff99"/>
<rect x="57.98" y="312.50" width="9.39" height="4.10" fill="#00ff90"/>
<rect x="57.98" y="315.90" width="9.39" height="4.10" fill="#00ff86"/>
<rect x="57.98" y="319.30" width="9.39" height="40.40" fill="#00ff7d"/>
<rect x="66.67" y="213.30" width="9.39" height="14.90" fill="#00ff7d"/>
<rect x="66.67" y="227.50" width="9.39" height="4.10" fill="#00ffab"/>
<rect x="66.67" y="230.90" width="9.39" height="4.10" fill="#00ffe3"/>
<rect x="66.67" y="234.30" width="9.39" height="4.10" fill="#00ffda"/>
<rect x="66.67" y="237.70" width="9.39" height="4.10" fill="#00ffbe"/>
<rect x="66.67" y="241.10" width="9.39" height="2.40" fill="#00ff99"/>
<rect x="66.67" y="242.80" width="9.39" height="2.40" fill="#00ff8b"/>
<rect x="66.67" y="244.50" width="9.39" height="2.40" fill="#3cff59"/>
<rect x="66.67" y="246.20" width="9.39" height="2.40" fill="#8fff27"/>
<rect x="66.67" y="247.90" width="9.39" height="2.40" fill="#9cff22"/>
<rect x="66.67" y="249.60" width="9.39" height="2.40" fill="#8fff27"/>
<rect x="66.67" y="251.30" width="9.39" height="2.40" fill="#64ff40"/>
<rect x="66.67" y="253.00" width="9.39" height="2.40" fill="#46ff52"/>
<rect x="66.67" y="254.70" width="9.39" height="4.10" fill="#00ff86"/>
<rect x="66.67" y="258.10" width="9.39" height="4.10" fill="#00ff8e"/>
<rect x="66.67" y="261.50" width="9.39" height="4.10" fill="#00ff97"/>
<rect x="66.67" y="264.90" width="9.39" height="14.30" fill="#00ff9e"/>
<rect x="66.67" y="278.50" width="9.39" height="21.10" fill="#00ff95"/>
<rect x="66.67" y="298.90" width="9.39" height="4.10" fill="#00ff8c"/>
<rect x="66.67" y="302.30" width="9.39" height="4.10" fill="#00ff89"/>
<rect x="66.67" y="305.70" width="9.39" height="4.10" fill="#00ff87"/>
<rect x="66.67" y="309.10" width="9.39" height="4.10" fill="#00ff84"/>
<rect x="66.67" y="312.50" width="9.39" height="4.10" fill="#00ff82"/>
<rect x="66.67" y="315.90" width="9.39" height="4.10" fill="#00ff7f"/>
<rect x="66.67" y="319.30" width="9.39" height="40.40" fill="#00ff7d"/>
<rect x="75.36" y="213.30" width="9.39" height="14.90" fill="#00ff7d"/>
<rect x="75.36" y="227.50" width="9.39" height="4.10" fill="#00ffab"/>
<rect x="75.36" y="230.90" width="9.39" height="4.10" fill="#00ffec"/>
<rect x="75.36" y="234.30" width="9.39" height="4.10" fill="#00ffe3"/>
<rect x="75.36" y="237.70" width="9.39" height="4.10" fill="#00ffbe"/>
<rect x="75.36" y="241.10" width="9.39" height="2.40" fill="#00ff99"/>
<rect x="75.36" y="242.80" width="9.39" height="2.40" fill="#00ff8b"/>
<rect x="75.36" y="244.50" width="9.39" height="2.40" fill="#14ff71"/>
<rect x="75.36" y="246.20" width="9.39" height="2.40" fill="#56ff49"/>
<rect x="75.36" y="247.90" width="9.39" height="2.40" fill="#60ff43"/>
<rect x="75.36" y="249.60" width="9.39" height="2.40" fill="#56ff49"/>
<rect x="75.36" y="251.30" width="9.39" height="2.40" fill="#30ff60"/>
<rect x="75.36" y="253.00" width="9.39" height="2.40" fill="#22ff69"/>
<rect x="75.36" y="254.70" width="9.39" height="4.10" fill="#00ff88"/>
<rect x="75.36" y="258.10" width="9.39" height="4.10" fill="#00ff93"/>
<rect x="75.36" y="261.50" width="9.39" height="4.10" fill="#00ff9e"/>
<rect x="75.36" y="264.90" width="9.39" height="14.30" fill="#00ffab"/>
<rect x="75.36" y="278.50" width="9.39" height="21.10" fill="#00ff9e"/>
<rect x="75.36" y="298.90" width="9.39" height="4.10" fill="#00ff90"/>
<rect x="75.36" y="302.30" width="9.39" height="4.10" fill="#00ff8c"/>
<rect x="75.36" y="305.70" width="9.39" height="4.10" fill="#00ff89"/>
<rect x="75.36" y="309.10" width="9.39" height="4.10" fill="#00ff86"/>
<rect x="75.36" y="312.50" width="9.39" height="4.10" fill="#00ff83"/>
<rect x="75.36" y="315.90" width="9.39" height="4.10" fill="#00ff80"/>
<rect x="75.36" y="319.30" width="9.39" height="40.40" fill="#00ff7d"/>
<rect x="84.04" y="213.30" width="9.39" height="14.90" fill="#00ff7d"/>
<rect x="84.04" y="227.50" width="9.39" height="4.10" fill="#00ffab"/>
<rect x="84.04" y="230.90" width="9.39" height="7.50" fill="#00ffda"/>
<rect x="84.04" y="237.70" width="9.39" height="4.10" fill="#00ffb5"/>
<rect x="84.04" y="241.10" width="9.39" height="2.40" fill="#00ff90"/>
<rect x="84.04" y="242.80" width="9.39" height="2.40" fill="#00ff86"/>
<rect x="84.04" y="244.50" width="9.39" height="2.40" fill="#14ff71"/>
<rect x="84.04" y="246.20" width="9.39" height="2.40" fill="#56ff49"/>
<rect x="84.04" y="247.90" width="9.39" height="2.40" fill="#60ff43"/>
<rect x="84.04" y="249.60" width="9.39" height="2.40" fill="#56ff49"/>
<rect x="84.04" y="251.30" width="9.39" height="2.40" fill="#30ff60"/>
<rect x="84.04" y="253.00" width="9.39" height="2.40" fill="#22ff69"/>
<rect x="84.04" y="254.70" width="9.39" height="4.10" fill="#00ff88"/>
<rect x="84.04" y="258.10" width="9.39" height="4.10" fill="#00ff93"/>
<rect x="84.04" y="261.50" width="9.39" height="4.10" fill="#00ff9e"/>
<rect x="84.04" y="264.90" width="9.39" height="14.30" fill="#00ffab"/>
<rect x="84.04" y="278.50" width="9.39" height="21.10" fill="#00ff9e"/>
<rect x="84.04" y="298.90" width="9.39" height="4.10" fill="#00ff90"/>
<rect x="84.04" y="302.30" width="9.39" height="4.10" fill="#00ff8c"/>
<rect x="84.04" y="305.70" width="9.39" height="4.10" fill="#00ff89"/>
<rect x="84.04" y="309.10" width="9.39" height="4.10" fill="#00ff86"/>
<rect x="84.04" y="312.50" width="9.39" height="4.10" fill="#00ff83"/>
<rect x="84.04" y="315.90" width="9.39" height="4.10" fill="#00ff80"/>
<rect x="84.04" y="319.30" width="9.39" height="40.40" fill="#00ff7d"/>
<rect x="92.73" y="213.30" width="9.39" height="14.90" fill="#00ff7d"/>
<rect x="92.73" y="227.50" width="9.39" height="4.10" fill="#00ffa2"/>
<rect x="92.73" y="230.90" width="9.39" height="7.50" fill="#00ffd1"/>
<rect x="92.73" y="237.70" width="9.39" height="4.10" fill="#00ffb5"/>
<rect x="92.73" y="241.10" width="9.39" height="2.40" fill="#00ff90"/>
<rect x="92.73" y="242.80" width="9.39" height="2.40" fill="#00ff86"/>
<rect x="92.73" y="244.50" width="9.39" height="2.40" fill="#00ff7d"/>
<rect x="92.73" y="246.20" width="9.39" height="2.40" fill="#19ff6e"/>
<rect x="92.73" y="247.90" width="9.39" height="2.40" fill="#1cff6c"/>
<rect x="92.73" y="249.60" width="9.39" height="2.40" fill="#19ff6e"/>
<rect x="92.73" y="251.30" width="9.39" height="2.40" fill="#10ff73"/>
<rect x="92.73" y="253.00" width="9.39" height="2.40" fill="#0bff76"/>
<rect x="92.73" y="254.70" width="9.39" height="4.10" fill="#00ff87"/>
<rect x="92.73" y="258.10" width="9.39" height="4.10" fill="#00ff91"/>
<rect x="92.73" y="261.50" width="9.39" height="4.10" fill="#00ff9b"/>
<rect x="92.73" y="264.90" width="9.39" height="14.30" fill="#00ffa8"/>
<rect x="92.73" y="278.50" width="9.39" height="21.10" fill="#00ff9b"/>
<rect x="92.73" y="298.90" width="9.39" height="4.10" fill="#00ff8e"/>
<rect x="92.73" y="302.30" width="9.39" height="4.10" fill="#00ff8b"/>
<rect x="92.73" y="305.70" width="9.39" height="4.10" fill="#00ff88"/>
<rect x="92.73" y="309.10" width="9.39" height="4.10" fill="#00ff85"/>
<rect x="92.73" y="312.50" width="9.39" height="4.10" fill="#00ff83"/>
<rect x="92.73" y="315.90" width="9.39" height="4.10" fill="#00ff80"/>
<rect x="92.73" y="319.30" width="9.39" height="40.40" fill="#00ff7d"/>
<rect x="101.42" y="213.30" width="9.39" height="14.90" fill="#00ff7d"/>
<rect x="101.42" y="227.50" width="9.39" height="4.10" fill="#00ffa2"/>
<rect x="101.42" y="230.90" width="9.39" height="7.50" fill="#00ffd1"/>
<rect x="101.42" y="237.70" width="9.39" height="4.10" fill="#00ffab"/>
<rect x="101.42" y="241.10" width="9.39" height="2.40" fill="#00ff90"/>
<rect x="101.42" y="242.80" width="9.39" height="2.40" fill="#00ff86"/>
<rect x="101.42" y="244.50" width="9.39" height="2.40" fill="#14ff71"/>
<rect x="101.42" y="246.20" width="9.39" height="2.40" fill="#48ff51"/>
<rect x="101.42" y="247.90" width="9.39" height="2.40" fill="#50ff4c"/>
<rect x="101.42" y="249.60" width="9.39" height="2.40" fill="#48ff51"/>
<rect x="101.42" y="251.30" width="9.39" height="2.40" fill="#28ff65"/>
<rect x="101.42" y="253.00" width="9.39" height="2.40" fill="#1cff6c"/>
<rect x="101.42" y="254.70" width="9.39" height="4.10" fill="#00ff86"/>
<rect x="101.42" y="258.10" width="9.39" height="4.10" fill="#00ff8e"/>
<rect x="101.42" y="261.50" width="9.39" height="4.10" fill="#00ff97"/>
<rect x="101.42" y="264.90" width="9.39" height="14.30" fill="#00ffa4"/>
<rect x="101.42" y="278.50" width="9.39" height="21.10" fill="#00ff98"/>
<rect x="101.42" y="298.90" width="9.39" height="4.10" fill="#00ff8c"/>
<rect x="101.42" y="302.30" width="9.39" height="4.10" fill="#00ff89"/>
<rect x="101.42" y="305.70" width="9.39" height="4.10" fill="#00ff87"/>
<rect x="101.42" y="309.10" width="9.39" height="4.10" fill="#00ff84"/>
<rect x="101.42" y="312.50" width="9.39" height="4.10" fill="#00ff82"/>
<rect x="101.42" y="315.90" width="9.39" height="4.10" fill="#00ff7f"/>
<rect x="101.42" y="319.30" width="9.39" height="40.40" fill="#00ff7d"/>
<rect x="110.11" y="213.30" width="9.39" height="14.90" fill="#00ff7d"/>
<rect x="110.11" y="227.50" width="9.39" height="4.10" fill="#00ff99"/>
<rect x="110.11" y="230.90" width="9.39" height="7.50" fill="#00ffbe"/>
<rect x="110.11" y="237.70" width="9.39" height="4.10" fill="#00ffa2"/>
<rect x="110.11" y="241.10" width="9.39" height="2.40" fill="#00ff86"/>
<rect x="110.11" y="242.80" width="9.39" height="2.40" fill="#00ff82"/>
<rect x="110.11" y="244.50" width="9.39" height="2.40" fill="#30ff60"/>
<rect x="110.11" y="246.20" width="9.39" height="2.40" fill="#82ff2e"/>
<rect x="110.11" y="247.90" width="9.39" height="2.40" fill="#8fff27"/>
<rect x="110.11" y="249.60" width="9.39" height="2.40" fill="#82ff2e"/>
<rect x="110.11" y="251.30" width="9.39" height="2.40" fill="#64ff40"/>
<rect x="110.11" y="253.00" width="9.39" height="2.40" fill="#46ff52"/>
<rect x="110.11" y="254.70" width="9.39" height="4.10" fill="#00ff82"/>
<rect x="110.11" y="258.10" width="9.39" height="4.10" fill="#00ff87"/>
<rect x="110.11" y="261.50" width="9.39" height="4.10" fill="#00ff8c"/>
<rect x="110.11" y="264.90" width="9.39" height="14.30" fill="#00ff93"/>
<rect x="110.11" y="278.50" width="9.39" height="21.10" fill="#00ff8d"/>
<rect x="110.11" y="298.90" width="9.39" height="4.10" fill="#00ff86"/>
<rect x="110.11" y="302.30" width="9.39" height="4.10" fill="#00ff85"/>
<rect x="110.11" y="305.70" width="9.39" height="4.10" fill="#00ff83"/>
<rect x="110.11" y="309.10" width="9.39" height="4.10" fill="#00ff82"/>
<rect x="110.11" y="312.50" width="9.39" height="4.10" fill="#00ff80"/>
<rect x="110.11" y="315.90" width="9.39" height="4.10" fill="#00ff7f"/>
<rect x="110.11" y="319.30" width="9.39" height="40.40" fill="#00ff7d"/>
<rect x="118.80" y="213.30" width="9.39" height="14.90" fill="#00ff7d"/>
<rect x="118.80" y="227.50" width="9.39" height="4.10" fill="#00ff91"/>
<rect x="118.80" y="230.90" width="9.39" height="4.10" fill="#00ffb2"/>
<rect x="118.80" y="234.30" width="9.39" height="4.10" fill="#00ffac"/>
<rect x="118.80" y="237.70" width="9.39" height="4.10" fill="#00ff98"/>
<rect x="118.80" y="241.10" width="9.39" height="2.40" fill="#00ff84"/>
<rect x="118.80" y="242.80" width="9.39" height="2.40" fill="#00ff80"/>
<rect x="118.80" y="244.50" width="9.39" height="2.40" fill="#00ff7d"/>
<rect x="118.80" y="246.20" width="9.39" height="2.40" fill="#20ff69"/>
<rect x="118.80" y="247.90" width="9.39" height="2.40" fill="#24ff67"/>
<rect x="118.80" y="249.60" width="9.39" height="2.40" fill="#20ff69"/>
<rect x="118.80" y="251.30" width="9.39" height="2.40" fill="#10ff73"/>
<rect x="118.80" y="253.00" width="9.39" height="2.40" fill="#0bff76"/>
<rect x="118.80" y="254.70" width="9.39" height="4.10" fill="#00ff82"/>
<rect x="118.80" y="258.10" width="9.39" height="4.10" fill="#00ff87"/>
<rect x="118.80" y="261.50" width="9.39" height="4.10" fill="#00ff8c"/>
<rect x="118.80" y="264.90" width="9.39" height="14.30" fill="#00ff93"/>
<rect x="118.80" y="278.50" width="9.39" height="21.10" fill="#00ff8c"/>
<rect x="118.80" y="298.90" width="9.39" height="4.10" fill="#00ff84"/>
<rect x="118.80" y="302.30" width="9.39" height="4.10" fill="#00ff83"/>
<rect x="118.80" y="305.70" width="9.39" height="4.10" fill="#00ff82"/>
<rect x="118.80" y="309.10" width="9.39" height="4.10" fill="#00ff81"/>
<rect x="118.80" y="312.50" width="9.39" height="4.10" fill="#00ff7f"/>
<rect x="118.80" y="315.90" width="9.39" height="4.10" fill="#00ff7e"/>
<rect x="118.80" y="319.30" width="9.39" height="40.40" fill="#00ff7d"/>
<rect x="127.49" y="213.30" width="9.39" height="14.90" fill="#00ff7d"/>
<rect x="127.49" y="227.50" width="9.39" height="4.10" fill="#00ff8a"/>
<rect x="127.49" y="230.90" width="9.39" height="7.50" fill="#00ffa5"/>
<rect x="127.49" y="237.70" width="9.39" height="4.10" fill="#00ff91"/>
<rect x="127.49" y="241.10" width="9.39" height="2.40" fill="#00ff84"/>
<rect x="127.49" y="242.80" width="9.39" height="2.40" fill="#00ff80"/>
<rect x="127.49" y="244.50" width="9.39" height="2.40" fill="#00ff7d"/>
<rect x="127.49" y="246.20" width="9.39" height="2.40" fill="#20ff69"/>
<rect x="127.49" y="247.90" width="9.39" height="2.40" fill="#24ff67"/>
<rect x="127.49" y="249.60" width="9.39" height="2.40" fill="#20ff69"/>
<rect x="127.49" y="251.30" width="9.39" height="2.40" fill="#10ff73"/>
<rect x="127.49" y="253.00" width="9.39" height="2.40" fill="#0bff76"/>
<rect x="127.49" y="254.70" width="9.39" height="4.10" fill="#00ff81"/>
<rect x="127.49" y="258.10" width="9.39" height="4.10" fill="#00ff86"/>
<rect x="127.49" y="261.50" width="9.39" height="4.10" fill="#00ff8a"/>
<rect x="127.49" y="264.90" width="9.39" height="14.30" fill="#00ff90"/>
<rect x="127.49" y="278.50" width="9.39" height="21.10" fill="#00ff89"/>
<rect x="127.49" y="298.90" width="9.39" height="4.10" fill="#00ff83"/>
<rect x="127.49" y="302.30" width="9.39" height="4.10" fill="#00ff82"/>
<rect x="127.49" y="305.70" width="9.39" height="4.10" fill="#00ff81"/>
<rect x="127.49" y="309.10" width="9.39" height="4.10" fill="#00ff80"/>
<rect x="127.49" y="312.50" width="9.39" height="4.10" fill="#00ff7f"/>
<rect x="127.49" y="315.90" width="9.39" height="4.10" fill="#00ff7e"/>
<rect x="127.49" y="319.30" width="9.39" height="40.40" fill="#00ff7d"/>
<rect x="136.18" y="213.30" width="9.39" height="14.90" fill="#00ff7d"/>
<rect x="136.18" y="227.50" width="9.39" height="4.10" fill="#00ff8a"/>
<rect x="136.18" y="230.90" width="9.39" height="7.50" fill="#00ffa5"/>
<rect x="136.18" y="237.70" width="9.39" height="4.10" fill="#00ff91"/>
<rect x="136.18" y="241.10" width="9.39" height="2.40" fill="#00ff84"/>
<rect x="136.18" y="242.80" width="9.39" height="2.40" fill="#00ff80"/>
<rect x="136.18" y="244.50" width="9.39" height="2.40" fill="#14ff71"/>
<rect x="136.18" y="246.20" width="9.39" height="2.40" fill="#4fff4d"/>
<rect x="136.18" y="247.90" width="9.39" height="2.40" fill="#58ff48"/>
<rect x="136.18" y="249.60" width="9.39" height="2.40" fill="#4fff4d"/>
<rect x="136.18" y="251.30" width="9.39" height="2.40" fill="#30ff60"/>
<rect x="136.18" y="253.00" width="9.39" height="2.40" fill="#22ff69"/>
<rect x="136.18" y="254.70" width="9.39" height="4.10" fill="#00ff81"/>
<rect x="136.18" y="258.10" width="9.39" height="4.10" fill="#00ff86"/>
<rect x="136.18" y="261.50" width="9.39" height="4.10" fill="#00ff8a"/>
<rect x="136.18" y="264.90" width="9.39" height="14.30" fill="#00ff90"/>
<rect x="136.18" y="278.50" width="9.39" height="21.10" fill="#00ff89"/>
<rect x="136.18" y="298.90" width="9.39" height="4.10" fill="#00ff83"/>
<rect x="136.18" y="302.30" width="9.39" height="4.10" fill="#00ff82"/>
<rect x="136.18" y="305.70" width="9.39" height="4.10" fill="#00ff81"/>
<rect x="136.18" y="309.10" width="9.39" height="4.10" fill="#00ff80"/>
<rect x="136.18" y="312.50" width="9.39" height="4.10" fill="#00ff7f"/>
<rect x="136.18" y="315.90" width="9.39" height="4.10" fill="#00ff7e"/>
<rect x="136.18" y="319.30" width="9.39" height="40.40" fill="#00ff7d"/>
<rect x="144.87" y="213.30" width="9.39" height="14.90" fill="#00ff7d"/>
<rect x="144.87" y="227.50" width="9.39" height="4.10" fill="#00ff8a"/>
<rect x="144.87" y="230.90" width="9.39" height="7.50" fill="#00ff9e"/>
<rect x="144.87" y="237.70" width="9.39" height="4.10" fill="#00ff8a"/>
<rect x="144.87" y="241.10" width="9.39" height="4.10" fill="#00ff7d"/>
<rect x="144.87" y="244.50" width="9.39" height="2.40" fill="#50ff4c"/>
<rect x="144.87" y="246.20" width="9.39" height="2.40" fill="#89ff2a"/>
<rect x="144.87" y="247.90" width="9.39" height="2.40" fill="#96ff25"/>
<rect x="144.87" y="249.60" width="9.39" height="2.40" fill="#89ff2a"/>
<rect x="144.87" y="251.30" width="9.39" height="2.40" fill="#78ff34"/>
<rect x="144.87" y="253.00" width="9.39" height="2.40" fill="#54ff4a"/>
<rect x="144.87" y="254.70" width="9.39" height="4.10" fill="#00ff80"/>
<rect x="144.87" y="258.10" width="9.39" height="4.10" fill="#00ff83"/>
<rect x="144.87" y="261.50" width="9.39" height="4.10" fill="#00ff86"/>
<rect x="144.87" y="264.90" width="9.39" height="14.30" fill="#00ff8c"/>
<rect x="144.87" y="278.50" width="9.39" height="21.10" fill="#00ff87"/>
<rect x="144.87" y="298.90" width="9.39" height="4.10" fill="#00ff83"/>
<rect x="144.87" y="302.30" width="9.39" height="4.10" fill="#00ff82"/>
<rect x="144.87" y="305.70" width="9.39" height="4.10" fill="#00ff81"/>
<rect x="144.87" y="309.10" width="9.39" height="4.10" fill="#00ff80"/>
<rect x="144.87" y="312.50" width="9.39" height="4.10" fill="#00ff7f"/>
<rect x="144.87" y="315.90" width="9.39" height="4.10" fill="#00ff7e"/>
<rect x="144.87" y="319.30" width="9.39" height="40.40" fill="#00ff7d"/>
<rect x="153.56" y="213.30" width="9.39" height="14.90" fill="#00ff7d"/>
<rect x="153.56" y="227.50" width="9.39" height="4.10" fill="#00ff8a"/>
<rect x="153.56" y="230.90" width="9.39" height="7.50" fill="#00ff9e"/>
<rect x="153.56" y="237.70" width="9.39" height="4.10" fill="#00ff8a"/>
<rect x="153.56" y="241.10" width="9.39" height="5.80" fill="#00ff7d"/>
<rect x="153.56" y="246.20" width="9.39" height="2.40" fill="#0eff74"/>
<rect x="153.56" y="247.90" width="9.39" height="2.40" fill="#10ff73"/>
<rect x="153.56" y="249.60" width="9.39" height="2.40" fill="#0eff74"/>
<rect x="153.56" y="251.30" width="9.39" height="4.10" fill="#00ff7d"/>
<rect x="153.56" y="254.70" width="9.39" height="4.10" fill="#00ff7f"/>
<rect x="153.56" y="258.10" width="9.39" height="4.10" fill="#00ff82"/>
<rect x="153.56" y="261.50" width="9.39" height="4.10" fill="#00ff84"/>
<rect x="153.56" y="264.90" width="9.39" height="14.30" fill="#00ff88"/>
<rect x="153.56" y="278.50" width="9.39" height="21.10" fill="#00ff83"/>
<rect x="153.56" y="298.90" width="9.39" height="60.80" fill="#00ff7d"/>
<rect x="162.24" y="213.30" width="9.39" height="14.90" fill="#00ff7d"/>
<rect x="162.24" y="227.50" width="9.39" height="4.10" fill="#00ff84"/>
<rect x="162.24" y="230.90" width="9.39" height="7.50" fill="#00ff98"/>
<rect x="162.24" y="237.70" width="9.39" height="4.10" fill="#00ff8a"/>
<rect x="162.24" y="241.10" width="9.39" height="4.10" fill="#00ff7d"/>
<rect x="162.24" y="244.50" width="9.39" height="2.40" fill="#14ff71"/>
<rect x="162.24" y="246.20" width="9.39" height="2.40" fill="#4fff4d"/>
<rect x="162.24" y="247.90" width="9.39" height="2.40" fill="#58ff48"/>
<rect x="162.24" y="249.60" width="9.39" height="2.40" fill="#18ff6f"/>
<rect x="162.24" y="251.30" width="9.39" height="4.10" fill="#00ff7d"/>
<rect x="162.24" y="254.70" width="9.39" height="4.10" fill="#00ff7f"/>
<rect x="162.24" y="258.10" width="9.39" height="4.10" fill="#00ff81"/>
<rect x="162.24" y="261.50" width="9.39" height="4.10" fill="#00ff83"/>
<rect x="162.24" y="264.90" width="9.39" height="14.30" fill="#00ff86"/>
<rect x="162.24" y="278.50" width="9.39" height="21.10" fill="#00ff82"/>
<rect x="162.24" y="298.90" width="9.39" height="60.80" fill="#00ff7d"/>
<rect x="170.93" y="213.30" width="9.39" height="14.90" fill="#00ff7d"/>
<rect x="170.93" y="227.50" width="9.39" height="4.10" fill="#00ff84"/>
<rect x="170.93" y="230.90" width="9.39" height="7.50" fill="#00ff8d"/>
<rect x="170.93" y="237.70" width="9.39" height="4.10" fill="#00ff84"/>
<rect x="170.93" y="241.10" width="9.39" height="4.10" fill="#00ff7d"/>
<rect x="170.93" y="244.50" width="9.39" height="2.40" fill="#14ff71"/>
<rect x="170.93" y="246.20" width="9.39" height="2.40" fill="#48ff51"/>
<rect x="170.93" y="247.90" width="9.39" height="2.40" fill="#50ff4c"/>
<rect x="170.93" y="249.60" width="9.39" height="2.40" fill="#16ff70"/>
<rect x="170.93" y="251.30" width="9.39" height="4.10" fill="#00ff7d"/>
<rect x="170.93" y="254.70" width="9.39" height="4.10" fill="#00ff7f"/>
<rect x="170.93" y="258.10" width="9.39" height="4.10" fill="#00ff81"/>
<rect x="170.93" y="261.50" width="9.39" height="4.10" fill="#00ff83"/>
<rect x="170.93" y="264.90" width="9.39" height="14.30" fill="#00ff84"/>
<rect x="170.93" y="278.50" width="9.39" height="21.10" fill="#00ff81"/>
<rect x="170.93" y="298.90" width="9.39" height="60.80" fill="#00ff7d"/>
<rect x="179.62" y="213.30" width="9.39" height="18.30" fill="#00ff7d"/>
<rect x="179.62" y="230.90" width="9.39" height="7.50" fill="#00ff86"/>
<rect x="179.62" y="237.70" width="9.39" height="4.10" fill="#00ff81"/>
<rect x="179.62" y="241.10" width="9.39" height="5.80" fill="#00ff7d"/>
<rect x="179.62" y="246.20" width="9.39" height="2.40" fill="#0bff76"/>
<rect x="179.62" y="247.90" width="9.39" height="2.40" fill="#0cff76"/>
<rect x="179.62" y="249.60" width="9.39" height="2.40" fill="#03ff7b"/>
<rect x="179.62" y="251.30" width="9.39" height="108.40" fill="#00ff7d"/>
<rect x="188.31" y="213.30" width="9.39" height="16.60" fill="#00ff7d"/>
<rect x="188.31" y="229.20" width="9.39" height="10.90" fill="#00ff84"/>
<rect x="188.31" y="239.40" width="9.39" height="7.50" fill="#00ff7d"/>
<rect x="188.31" y="246.20" width="9.39" height="5.80" fill="#10ff73"/>
<rect x="188.31" y="251.30" width="9.39" height="108.40" fill="#00ff7d"/>
<rect x="197.00" y="213.30" width="9.39" height="16.60" fill="#00ff7d"/>
<rect x="197.00" y="229.20" width="9.39" height="10.90" fill="#00ff84"/>
<rect x="197.00" y="239.40" width="9.39" height="7.50" fill="#00ff7d"/>
<rect x="197.00" y="246.20" width="9.39" height="5.80" fill="#10ff73"/>
<rect x="197.00" y="251.30" width="9.39" height="108.40" fill="#00ff7d"/>
<rect x="205.69" y="213.30" width="9.39" height="16.60" fill="#00ff7d"/>
<rect x="205.69" y="229.20" width="9.39" height="10.90" fill="#00ff84"/>
<rect x="205.69" y="239.40" width="9.39" height="7.50" fill="#00ff7d"/>
<rect x="205.69" y="246.20" width="9.39" height="5.80" fill="#10ff73"/>
<rect x="205.69" y="251.30" width="9.39" height="108.40" fill="#00ff7d"/>
<rect x="214.38" y="213.30" width="9.39" height="16.60" fill="#00ff7d"/>
<rect x="214.38" y="229.20" width="9.39" height="10.90" fill="#00ff84"/>
<rect x="214.38" y="239.40" width="9.39" height="7.50" fill="#00ff7d"/>
<rect x="214.38" y="246.20" width="9.39" height="5.80" fill="#10ff73"/>
<rect x="214.38" y="251.30" width="9.39" height="108.40" fill="#00ff7d"/>
<rect x="223.07" y="213.30" width="9.39" height="16.60" fill="#00ff7d"/>
<rect x="223.07" y="229.20" width="9.39" height="10.90" fill="#00ff84"/>
<rect x="223.07" y="239.40" width="9.39" height="7.50" fill="#00ff7d"/>
<rect x="223.07" y="246.20" width="9.39" height="5.80" fill="#10ff73"/>
<rect x="223.07" y="251.30" width="9.39" height="108.40" fill="#00ff7d"/>
<rect x="231.76" y="213.30" width="9.39" height="16.60" fill="#00ff7d"/>
<rect x="231.76" y="229.20" width="9.39" height="10.90" fill="#00ff84"/>
<rect x="231.76" y="239.40" width="9.39" height="7.50" fill="#00ff7d"/>
<rect x="231.76" y="246.20" width="9.39" height="5.80" fill="#10ff73"/>
<rect x="231.76" y="251.30" width="9.39" height="108.40" fill="#00ff7d"/>
<rect x="240.44" y="213.30" width="9.39" height="16.60" fill="#00ff7d"/>
<rect x="240.44" y="229.20" width="9.39" height="10.90" fill="#00ff84"/>
<rect x="240.44" y="239.40" width="9.39" height="7.50" fill="#00ff7d"/>
<rect x="240.44" y="246.20" width="9.39" height="5.80" fill="#10ff73"/>
<rect x="240.44" y="251.30" width="9.39" height="108.40" fill="#00ff7d"/>
<rect x="249.13" y="213.30" width="9.39" height="16.60" fill="#00ff7d"/>
<rect x="249.13" y="229.20" width="9.39" height="10.90" fill="#00ff84"/>
<rect x="249.13" y="239.40" width="9.39" height="7.50" fill="#00ff7d"/>
<rect x="249.13" y="246.20" width="9.39" height="5.80" fill="#10ff73"/>
<rect x="249.13" y="251.30" width="9.39" height="108.40" fill="#00ff7d"/>
<rect x="257.82" y="213.30" width="9.39" height="16.60" fill="#00ff7d"/>
<rect x="257.82" y="229.20" width="9.39" height="10.90" fill="#00ff84"/>
<rect x="257.82" y="239.40" width="9.39" height="7.50" fill="#00ff7d"/>
<rect x="257.82" y="246.20" width="9.39" height="5.80" fill="#10ff73"/>
<rect x="257.82" y="251.30" width="9.39" height="108.40" fill="#00ff7d"/>
<rect x="266.51" y="213.30" width="13.39" height="16.60" fill="#00ff7d"/>
<rect x="266.51" y="229.20" width="13.39" height="10.90" fill="#00ff84"/>
<rect x="266.51" y="239.40" width="13.39" height="7.50" fill="#00ff7d"/>
<rect x="266.51" y="246.20" width="13.39" height="5.80" fill="#10ff73"/>
<rect x="266.51" y="251.30" width="13.39" height="108.40" fill="#00ff7d"/>
</g></g>
<line x1="44.9" y1="355.0" x2="44.9" y2="352.6" stroke="#333" stroke-width="0.6"/>
<line x1="44.9" y1="217.3" x2="44.9" y2="219.70000000000002" stroke="#333" stroke-width="0.6"/>
<text x="44.9" y="369.2" font-size="10.3" text-anchor="middle" fill="#333">0</text>
<line x1="78.9" y1="355.0" x2="78.9" y2="352.6" stroke="#333" stroke-width="0.6"/>
<line x1="78.9" y1="217.3" x2="78.9" y2="219.70000000000002" stroke="#333" stroke-width="0.6"/>
<text x="78.9" y="369.2" font-size="10.3" text-anchor="middle" fill="#333">20</text>
<line x1="112.8" y1="355.0" x2="112.8" y2="352.6" stroke="#333" stroke-width="0.6"/>
<line x1="112.8" y1="217.3" x2="112.8" y2="219.70000000000002" stroke="#333" stroke-width="0.6"/>
<text x="112.8" y="369.2" font-size="10.3" text-anchor="middle" fill="#333">40</text>
<line x1="146.8" y1="355.0" x2="146.8" y2="352.6" stroke="#333" stroke-width="0.6"/>
<line x1="146.8" y1="217.3" x2="146.8" y2="219.70000000000002" stroke="#333" stroke-width="0.6"/>
<text x="146.8" y="369.2" font-size="10.3" text-anchor="middle" fill="#333">60</text>
<line x1="180.7" y1="355.0" x2="180.7" y2="352.6" stroke="#333" stroke-width="0.6"/>
<line x1="180.7" y1="217.3" x2="180.7" y2="219.70000000000002" stroke="#333" stroke-width="0.6"/>
<text x="180.7" y="369.2" font-size="10.3" text-anchor="middle" fill="#333">80</text>
<line x1="214.7" y1="355.0" x2="214.7" y2="352.6" stroke="#333" stroke-width="0.6"/>
<line x1="214.7" y1="217.3" x2="214.7" y2="219.70000000000002" stroke="#333" stroke-width="0.6"/>
<text x="214.7" y="369.2" font-size="10.3" text-anchor="middle" fill="#333">100</text>
<line x1="248.6" y1="355.0" x2="248.6" y2="352.6" stroke="#333" stroke-width="0.6"/>
<line x1="248.6" y1="217.3" x2="248.6" y2="219.70000000000002" stroke="#333" stroke-width="0.6"/>
<text x="248.6" y="369.2" font-size="10.3" text-anchor="middle" fill="#333">120</text>
<line x1="40.6" y1="218.2" x2="43.0" y2="218.2" stroke="#333" stroke-width="0.6"/>
<line x1="275.2" y1="218.2" x2="272.8" y2="218.2" stroke="#333" stroke-width="0.6"/>
<text x="36.6" y="221.8" font-size="10.3" text-anchor="end" fill="#333">0</text>
<line x1="40.6" y1="252.2" x2="43.0" y2="252.2" stroke="#333" stroke-width="0.6"/>
<line x1="275.2" y1="252.2" x2="272.8" y2="252.2" stroke="#333" stroke-width="0.6"/>
<text x="36.6" y="255.8" font-size="10.3" text-anchor="end" fill="#333">1000</text>
<line x1="40.6" y1="286.1" x2="43.0" y2="286.1" stroke="#333" stroke-width="0.6"/>
<line x1="275.2" y1="286.1" x2="272.8" y2="286.1" stroke="#333" stroke-width="0.6"/>
<text x="36.6" y="289.8" font-size="10.3" text-anchor="end" fill="#333">2000</text>
<line x1="40.6" y1="320.1" x2="43.0" y2="320.1" stroke="#333" stroke-width="0.6"/>
<line x1="275.2" y1="320.1" x2="272.8" y2="320.1" stroke="#333" stroke-width="0.6"/>
<text x="36.6" y="323.8" font-size="10.3" text-anchor="end" fill="#333">3000</text>
<line x1="40.6" y1="354.1" x2="43.0" y2="354.1" stroke="#333" stroke-width="0.6"/>
<line x1="275.2" y1="354.1" x2="272.8" y2="354.1" stroke="#333" stroke-width="0.6"/>
<text x="36.6" y="357.8" font-size="10.3" text-anchor="end" fill="#333">4000</text>
<line x1="40.6" y1="217.3" x2="40.6" y2="355.0" stroke="#5a8a6a" stroke-width="0.5"/>
<line x1="40.6" y1="355.0" x2="275.2" y2="355.0" stroke="#5a8a6a" stroke-width="0.6"/>
<text x="159.4" y="214.4" font-size="10.65" font-weight="bold" text-anchor="middle" fill="#000">b) Discriminant 2DFT 1</text>
<text x="159.3" y="383.9" font-size="10.75" text-anchor="middle" fill="#333">Spectral Repetition (Hz)</text>
<text transform="translate(9.2,284.8) rotate(-90)" font-size="10.65" text-anchor="middle" fill="#333">Frequency (Hz)</text>
<defs><linearGradient id="cb1" x1="0" y1="1" x2="0" y2="0">
<stop offset="0.0" stop-color="#000080"/>
<stop offset="0.125" stop-color="#0000ff"/>
<stop offset="0.25" stop-color="#0080ff"/>
<stop offset="0.375" stop-color="#00ffff"/>
<stop offset="0.45" stop-color="#00f5aa"/>
<stop offset="0.505" stop-color="#00ec74"/>
<stop offset="0.515" stop-color="#50ee50"/>
<stop offset="0.5625" stop-color="#96f528"/>
<stop offset="0.625" stop-color="#ffff00"/>
<stop offset="0.75" stop-color="#ff8000"/>
<stop offset="0.875" stop-color="#ff0000"/>
<stop offset="1.0" stop-color="#800000"/>
</linearGradient></defs>
<rect x="279.1" y="217.3" width="8.8" height="137.7" fill="url(#cb1)"/>
<line x1="287.9" y1="237.5" x2="286.4" y2="237.5" stroke="#333" stroke-width="0.6"/>
<line x1="279.1" y1="237.5" x2="280.6" y2="237.5" stroke="#333" stroke-width="0.6"/>
<text x="291.1" y="241.7" font-size="10" fill="#333">0.2</text>
<line x1="287.9" y1="262.1" x2="286.4" y2="262.1" stroke="#333" stroke-width="0.6"/>
<line x1="279.1" y1="262.1" x2="280.6" y2="262.1" stroke="#333" stroke-width="0.6"/>
<text x="291.1" y="266.3" font-size="10" fill="#333">0.1</text>
<line x1="287.9" y1="286.7" x2="286.4" y2="286.7" stroke="#333" stroke-width="0.6"/>
<line x1="279.1" y1="286.7" x2="280.6" y2="286.7" stroke="#333" stroke-width="0.6"/>
<text x="291.1" y="290.9" font-size="10" fill="#333">0</text>
<line x1="287.9" y1="311.3" x2="286.4" y2="311.3" stroke="#333" stroke-width="0.6"/>
<line x1="279.1" y1="311.3" x2="280.6" y2="311.3" stroke="#333" stroke-width="0.6"/>
<text x="291.1" y="315.5" font-size="10" fill="#333">-0.1</text>
<line x1="287.9" y1="335.9" x2="286.4" y2="335.9" stroke="#333" stroke-width="0.6"/>
<line x1="279.1" y1="335.9" x2="280.6" y2="335.9" stroke="#333" stroke-width="0.6"/>
<text x="291.1" y="340.1" font-size="10" fill="#333">-0.2</text>
<text transform="translate(318.7,286.0) rotate(-90)" font-size="9.75" text-anchor="middle" fill="#333">Acceleration magnitude (a.u.)</text>
<clipPath id="ch2"><rect x="387.1" y="217.3" width="235.10" height="137.70"/></clipPath>
<filter id="bl2" x="-5%" y="-5%" width="110%" height="110%"><feGaussianBlur stdDeviation="0.7"/></filter>
<g clip-path="url(#ch2)"><g filter="url(#bl2)">
<rect x="383.1" y="213.3" width="243.10" height="145.70" fill="#00ff7d"/>
<rect x="383.10" y="213.30" width="13.41" height="14.90" fill="#00ff7d"/>
<rect x="383.10" y="227.50" width="13.41" height="4.10" fill="#9cff22"/>
<rect x="383.10" y="230.90" width="13.41" height="4.10" fill="#adff1d"/>
<rect x="383.10" y="234.30" width="13.41" height="4.10" fill="#bdff17"/>
<rect x="383.10" y="237.70" width="13.41" height="4.10" fill="#ceff11"/>
<rect x="383.10" y="241.10" width="13.41" height="4.10" fill="#ffff00"/>
<rect x="383.10" y="244.50" width="13.41" height="4.10" fill="#fff600"/>
<rect x="383.10" y="247.90" width="13.41" height="4.10" fill="#ff6e00"/>
<rect x="383.10" y="251.30" width="13.41" height="4.10" fill="#ff1200"/>
<rect x="383.10" y="254.70" width="13.41" height="7.50" fill="#ff0000"/>
<rect x="383.10" y="261.50" width="13.41" height="4.10" fill="#ff0900"/>
<rect x="383.10" y="264.90" width="13.41" height="4.10" fill="#ff2500"/>
<rect x="383.10" y="268.30" width="13.41" height="5.80" fill="#ff2e00"/>
<rect x="383.10" y="273.40" width="13.41" height="2.40" fill="#ff3b00"/>
<rect x="383.10" y="275.10" width="13.41" height="2.40" fill="#ff8000"/>
<rect x="383.10" y="276.80" width="13.41" height="2.40" fill="#deff0b"/>
<rect x="383.10" y="278.50" width="13.41" height="4.10" fill="#00ffb5"/>
<rect x="383.10" y="281.90" width="13.41" height="4.10" fill="#00ffc7"/>
<rect x="383.10" y="285.30" width="13.41" height="2.40" fill="#00fff6"/>
<rect x="383.10" y="287.00" width="13.41" height="2.40" fill="#00ffff"/>
<rect x="383.10" y="288.70" width="13.41" height="4.10" fill="#00e4ff"/>
<rect x="383.10" y="292.10" width="13.41" height="4.10" fill="#00edff"/>
<rect x="383.10" y="295.50" width="13.41" height="2.40" fill="#00ffff"/>
<rect x="383.10" y="297.20" width="13.41" height="2.40" fill="#00fffb"/>
<rect x="383.10" y="298.90" width="13.41" height="2.40" fill="#00ffec"/>
<rect x="383.10" y="300.60" width="13.41" height="2.40" fill="#00ffe9"/>
<rect x="383.10" y="302.30" width="13.41" height="4.10" fill="#00ffde"/>
<rect x="383.10" y="305.70" width="13.41" height="27.90" fill="#00ffda"/>
<rect x="383.10" y="332.90" width="13.41" height="26.80" fill="#00ffd4"/>
<rect x="395.81" y="213.30" width="9.41" height="18.30" fill="#00ff7d"/>
<rect x="395.81" y="230.90" width="9.41" height="4.10" fill="#00ffb5"/>
<rect x="395.81" y="234.30" width="9.41" height="7.50" fill="#00ffc7"/>
<rect x="395.81" y="241.10" width="9.41" height="4.10" fill="#00ffb5"/>
<rect x="395.81" y="244.50" width="9.41" height="4.10" fill="#00ff90"/>
<rect x="395.81" y="247.90" width="9.41" height="4.10" fill="#50ff4c"/>
<rect x="395.81" y="251.30" width="9.41" height="4.10" fill="#6eff3a"/>
<rect x="395.81" y="254.70" width="9.41" height="7.50" fill="#81ff2f"/>
<rect x="395.81" y="261.50" width="9.41" height="4.10" fill="#50ff4c"/>
<rect x="395.81" y="264.90" width="9.41" height="7.50" fill="#28ff65"/>
<rect x="395.81" y="271.70" width="9.41" height="4.10" fill="#14ff71"/>
<rect x="395.81" y="275.10" width="9.41" height="4.10" fill="#00ff7d"/>
<rect x="395.81" y="278.50" width="9.41" height="4.10" fill="#00ffb5"/>
<rect x="395.81" y="281.90" width="9.41" height="4.10" fill="#00ffc7"/>
<rect x="395.81" y="285.30" width="9.41" height="7.50" fill="#00ffd1"/>
<rect x="395.81" y="292.10" width="9.41" height="4.10" fill="#00ffc7"/>
<rect x="395.81" y="295.50" width="9.41" height="4.10" fill="#00ffbe"/>
<rect x="395.81" y="298.90" width="9.41" height="7.50" fill="#00ffb5"/>
<rect x="395.81" y="305.70" width="9.41" height="21.10" fill="#00ffab"/>
<rect x="395.81" y="326.10" width="9.41" height="17.70" fill="#00ffa2"/>
<rect x="395.81" y="343.10" width="9.41" height="16.60" fill="#00ff99"/>
<rect x="404.51" y="213.30" width="9.41" height="16.60" fill="#00ff7d"/>
<rect x="404.51" y="229.20" width="9.41" height="2.40" fill="#6eff3a"/>
<rect x="404.51" y="230.90" width="9.41" height="4.10" fill="#92ff26"/>
<rect x="404.51" y="234.30" width="9.41" height="2.40" fill="#b0ff1b"/>
<rect x="404.51" y="236.00" width="9.41" height="5.80" fill="#81ff2f"/>
<rect x="404.51" y="241.10" width="9.41" height="4.10" fill="#92ff26"/>
<rect x="404.51" y="244.50" width="9.41" height="4.10" fill="#a1ff21"/>
<rect x="404.51" y="247.90" width="9.41" height="4.10" fill="#bfff16"/>
<rect x="404.51" y="251.30" width="9.41" height="4.10" fill="#ffff00"/>
<rect x="404.51" y="254.70" width="9.41" height="4.10" fill="#ffed00"/>
<rect x="404.51" y="258.10" width="9.41" height="4.10" fill="#ffde00"/>
<rect x="404.51" y="261.50" width="9.41" height="4.10" fill="#ffd700"/>
<rect x="404.51" y="264.90" width="9.41" height="4.10" fill="#ffb600"/>
<rect x="404.51" y="268.30" width="9.41" height="4.10" fill="#ffad00"/>
<rect x="404.51" y="271.70" width="9.41" height="4.10" fill="#ffb600"/>
<rect x="404.51" y="275.10" width="9.41" height="4.10" fill="#ffdb00"/>
<rect x="404.51" y="278.50" width="9.41" height="4.10" fill="#efff06"/>
<rect x="404.51" y="281.90" width="9.41" height="4.10" fill="#a1ff21"/>
<rect x="404.51" y="285.30" width="9.41" height="4.10" fill="#92ff26"/>
<rect x="404.51" y="288.70" width="9.41" height="4.10" fill="#a1ff21"/>
<rect x="404.51" y="292.10" width="9.41" height="4.10" fill="#6eff3a"/>
<rect x="404.51" y="295.50" width="9.41" height="4.10" fill="#28ff65"/>
<rect x="404.51" y="298.90" width="9.41" height="4.10" fill="#20ff6a"/>
<rect x="404.51" y="302.30" width="9.41" height="4.10" fill="#28ff65"/>
<rect x="404.51" y="305.70" width="9.41" height="4.10" fill="#70ff39"/>
<rect x="404.51" y="309.10" width="9.41" height="4.10" fill="#28ff65"/>
<rect x="404.51" y="312.50" width="9.41" height="21.10" fill="#0cff76"/>
<rect x="404.51" y="332.90" width="9.41" height="26.80" fill="#00ff7d"/>
<rect x="413.22" y="213.30" width="9.41" height="18.30" fill="#00ff7d"/>
<rect x="413.22" y="230.90" width="9.41" height="4.10" fill="#50ff4c"/>
<rect x="413.22" y="234.30" width="9.41" height="4.10" fill="#3cff59"/>
<rect x="413.22" y="237.70" width="9.41" height="4.10" fill="#00ff7d"/>
<rect x="413.22" y="241.10" width="9.41" height="4.10" fill="#14ff71"/>
<rect x="413.22" y="244.50" width="9.41" height="4.10" fill="#50ff4c"/>
<rect x="413.22" y="247.90" width="9.41" height="4.10" fill="#64ff40"/>
<rect x="413.22" y="251.30" width="9.41" height="4.10" fill="#81ff2f"/>
<rect x="413.22" y="254.70" width="9.41" height="7.50" fill="#92ff26"/>
<rect x="413.22" y="261.50" width="9.41" height="10.90" fill="#81ff2f"/>
<rect x="413.22" y="271.70" width="9.41" height="4.10" fill="#6eff3a"/>
<rect x="413.22" y="275.10" width="9.41" height="4.10" fill="#28ff65"/>
<rect x="413.22" y="278.50" width="9.41" height="4.10" fill="#00ffa2"/>
<rect x="413.22" y="281.90" width="9.41" height="4.10" fill="#00ffb5"/>
<rect x="413.22" y="285.30" width="9.41" height="7.50" fill="#00ffbe"/>
<rect x="413.22" y="292.10" width="9.41" height="7.50" fill="#00ffb5"/>
<rect x="413.22" y="298.90" width="9.41" height="7.50" fill="#00ffab"/>
<rect x="413.22" y="305.70" width="9.41" height="21.10" fill="#00ffa2"/>
<rect x="413.22" y="326.10" width="9.41" height="17.70" fill="#00ff99"/>
<rect x="413.22" y="343.10" width="9.41" height="16.60" fill="#00ff90"/>
<rect x="421.93" y="213.30" width="9.41" height="21.70" fill="#00ff7d"/>
<rect x="421.93" y="234.30" width="9.41" height="4.10" fill="#00ffa2"/>
<rect x="421.93" y="237.70" width="9.41" height="4.10" fill="#00ffbe"/>
<rect x="421.93" y="241.10" width="9.41" height="4.10" fill="#00ffa2"/>
<rect x="421.93" y="244.50" width="9.41" height="4.10" fill="#00ff90"/>
<rect x="421.93" y="247.90" width="9.41" height="27.90" fill="#00ff7d"/>
<rect x="421.93" y="275.10" width="9.41" height="4.10" fill="#00ff90"/>
<rect x="421.93" y="278.50" width="9.41" height="4.10" fill="#00ffda"/>
<rect x="421.93" y="281.90" width="9.41" height="10.90" fill="#00fff6"/>
<rect x="421.93" y="292.10" width="9.41" height="4.10" fill="#00ffec"/>
<rect x="421.93" y="295.50" width="9.41" height="4.10" fill="#00ffe3"/>
<rect x="421.93" y="298.90" width="9.41" height="4.10" fill="#00ffda"/>
<rect x="421.93" y="302.30" width="9.41" height="4.10" fill="#00ffd1"/>
<rect x="421.93" y="305.70" width="9.41" height="4.10" fill="#00ffcb"/>
<rect x="421.93" y="309.10" width="9.41" height="7.50" fill="#00ffc7"/>
<rect x="421.93" y="315.90" width="9.41" height="10.90" fill="#00ffbe"/>
<rect x="421.93" y="326.10" width="9.41" height="21.10" fill="#00ffb5"/>
<rect x="421.93" y="346.50" width="9.41" height="13.20" fill="#00ffab"/>
<rect x="430.64" y="213.30" width="9.41" height="16.60" fill="#00ff7d"/>
<rect x="430.64" y="229.20" width="9.41" height="2.40" fill="#3cff59"/>
<rect x="430.64" y="230.90" width="9.41" height="4.10" fill="#50ff4c"/>
<rect x="430.64" y="234.30" width="9.41" height="4.10" fill="#00ff7d"/>
<rect x="430.64" y="237.70" width="9.41" height="4.10" fill="#00ff99"/>
<rect x="430.64" y="241.10" width="9.41" height="4.10" fill="#00ff7d"/>
<rect x="430.64" y="244.50" width="9.41" height="4.10" fill="#28ff65"/>
<rect x="430.64" y="247.90" width="9.41" height="4.10" fill="#50ff4c"/>
<rect x="430.64" y="251.30" width="9.41" height="4.10" fill="#6eff3a"/>
<rect x="430.64" y="254.70" width="9.41" height="4.10" fill="#b0ff1b"/>
<rect x="430.64" y="258.10" width="9.41" height="14.30" fill="#bfff16"/>
<rect x="430.64" y="271.70" width="9.41" height="4.10" fill="#a1ff21"/>
<rect x="430.64" y="275.10" width="9.41" height="4.10" fill="#6eff3a"/>
<rect x="430.64" y="278.50" width="9.41" height="4.10" fill="#00ffa2"/>
<rect x="430.64" y="281.90" width="9.41" height="10.90" fill="#00ffc7"/>
<rect x="430.64" y="292.10" width="9.41" height="4.10" fill="#00ffbe"/>
<rect x="430.64" y="295.50" width="9.41" height="7.50" fill="#00ffb5"/>
<rect x="430.64" y="302.30" width="9.41" height="17.70" fill="#00ffa6"/>
<rect x="430.64" y="319.30" width="9.41" height="17.70" fill="#00ff9d"/>
<rect x="430.64" y="336.30" width="9.41" height="23.40" fill="#00ff93"/>
<rect x="439.34" y="213.30" width="9.41" height="14.90" fill="#00ff7d"/>
<rect x="439.34" y="227.50" width="9.41" height="4.10" fill="#28ff65"/>
<rect x="439.34" y="230.90" width="9.41" height="4.10" fill="#3cff59"/>
<rect x="439.34" y="234.30" width="9.41" height="7.50" fill="#00ff7d"/>
<rect x="439.34" y="241.10" width="9.41" height="4.10" fill="#50ff4c"/>
<rect x="439.34" y="244.50" width="9.41" height="4.10" fill="#6eff3a"/>
<rect x="439.34" y="247.90" width="9.41" height="4.10" fill="#81ff2f"/>
<rect x="439.34" y="251.30" width="9.41" height="4.10" fill="#92ff26"/>
<rect x="439.34" y="254.70" width="9.41" height="7.50" fill="#b0ff1b"/>
<rect x="439.34" y="261.50" width="9.41" height="7.50" fill="#a1ff21"/>
<rect x="439.34" y="268.30" width="9.41" height="4.10" fill="#92ff26"/>
<rect x="439.34" y="271.70" width="9.41" height="4.10" fill="#81ff2f"/>
<rect x="439.34" y="275.10" width="9.41" height="4.10" fill="#14ff71"/>
<rect x="439.34" y="278.50" width="9.41" height="4.10" fill="#00ffb5"/>
<rect x="439.34" y="281.90" width="9.41" height="10.90" fill="#00ffc7"/>
<rect x="439.34" y="292.10" width="9.41" height="4.10" fill="#00ffbe"/>
<rect x="439.34" y="295.50" width="9.41" height="4.10" fill="#00ffb5"/>
<rect x="439.34" y="298.90" width="9.41" height="4.10" fill="#00ffb1"/>
<rect x="439.34" y="302.30" width="9.41" height="17.70" fill="#00ffa2"/>
<rect x="439.34" y="319.30" width="9.41" height="40.40" fill="#00ff99"/>
<rect x="448.05" y="213.30" width="9.41" height="18.30" fill="#00ff7d"/>
<rect x="448.05" y="230.90" width="9.41" height="4.10" fill="#50ff4c"/>
<rect x="448.05" y="234.30" width="9.41" height="4.10" fill="#3cff59"/>
<rect x="448.05" y="237.70" width="9.41" height="7.50" fill="#00ff7d"/>
<rect x="448.05" y="244.50" width="9.41" height="10.90" fill="#14ff71"/>
<rect x="448.05" y="254.70" width="9.41" height="4.10" fill="#50ff4c"/>
<rect x="448.05" y="258.10" width="9.41" height="4.10" fill="#81ff2f"/>
<rect x="448.05" y="261.50" width="9.41" height="4.10" fill="#92ff26"/>
<rect x="448.05" y="264.90" width="9.41" height="7.50" fill="#a1ff21"/>
<rect x="448.05" y="271.70" width="9.41" height="4.10" fill="#92ff26"/>
<rect x="448.05" y="275.10" width="9.41" height="4.10" fill="#50ff4c"/>
<rect x="448.05" y="278.50" width="9.41" height="4.10" fill="#00ffb5"/>
<rect x="448.05" y="281.90" width="9.41" height="14.30" fill="#00ffbe"/>
<rect x="448.05" y="295.50" width="9.41" height="4.10" fill="#00ffb5"/>
<rect x="448.05" y="298.90" width="9.41" height="4.10" fill="#00ffb1"/>
<rect x="448.05" y="302.30" width="9.41" height="4.10" fill="#00ffab"/>
<rect x="448.05" y="305.70" width="9.41" height="14.30" fill="#00ffa2"/>
<rect x="448.05" y="319.30" width="9.41" height="40.40" fill="#00ff93"/>
<rect x="456.76" y="213.30" width="9.41" height="14.90" fill="#00ff7d"/>
<rect x="456.76" y="227.50" width="9.41" height="4.10" fill="#00ff90"/>
<rect x="456.76" y="230.90" width="9.41" height="7.50" fill="#00ffab"/>
<rect x="456.76" y="237.70" width="9.41" height="4.10" fill="#00ff99"/>
<rect x="456.76" y="241.10" width="9.41" height="14.30" fill="#00ff86"/>
<rect x="456.76" y="254.70" width="9.41" height="4.10" fill="#28ff65"/>
<rect x="456.76" y="258.10" width="9.41" height="10.90" fill="#6eff3a"/>
<rect x="456.76" y="268.30" width="9.41" height="4.10" fill="#64ff40"/>
<rect x="456.76" y="271.70" width="9.41" height="4.10" fill="#3cff59"/>
<rect x="456.76" y="275.10" width="9.41" height="4.10" fill="#00ff90"/>
<rect x="456.76" y="278.50" width="9.41" height="4.10" fill="#00ffbe"/>
<rect x="456.76" y="281.90" width="9.41" height="4.10" fill="#00ffd1"/>
<rect x="456.76" y="285.30" width="9.41" height="4.10" fill="#00ffc7"/>
<rect x="456.76" y="288.70" width="9.41" height="4.10" fill="#00ffbe"/>
<rect x="456.76" y="292.10" width="9.41" height="4.10" fill="#00ffb8"/>
<rect x="456.76" y="295.50" width="9.41" height="4.10" fill="#00ffb5"/>
<rect x="456.76" y="298.90" width="9.41" height="4.10" fill="#00ffab"/>
<rect x="456.76" y="302.30" width="9.41" height="17.70" fill="#00ff99"/>
<rect x="456.76" y="319.30" width="9.41" height="40.40" fill="#00ff90"/>
<rect x="465.47" y="213.30" width="9.41" height="28.50" fill="#00ff7d"/>
<rect x="465.47" y="241.10" width="9.41" height="4.10" fill="#50ff4c"/>
<rect x="465.47" y="244.50" width="9.41" height="4.10" fill="#64ff40"/>
<rect x="465.47" y="247.90" width="9.41" height="4.10" fill="#92ff26"/>
<rect x="465.47" y="251.30" width="9.41" height="4.10" fill="#a1ff21"/>
<rect x="465.47" y="254.70" width="9.41" height="4.10" fill="#61ff42"/>
<rect x="465.47" y="258.10" width="9.41" height="14.30" fill="#53ff4b"/>
<rect x="465.47" y="271.70" width="9.41" height="4.10" fill="#1eff6b"/>
<rect x="465.47" y="275.10" width="9.41" height="4.10" fill="#00ff7d"/>
<rect x="465.47" y="278.50" width="9.41" height="4.10" fill="#00ff99"/>
<rect x="465.47" y="281.90" width="9.41" height="17.70" fill="#00ffa7"/>
<rect x="465.47" y="298.90" width="9.41" height="7.50" fill="#00ffa0"/>
<rect x="465.47" y="305.70" width="9.41" height="21.10" fill="#00ff96"/>
<rect x="465.47" y="326.10" width="9.41" height="33.60" fill="#00ff8e"/>
<rect x="474.17" y="213.30" width="9.41" height="18.30" fill="#00ff7d"/>
<rect x="474.17" y="230.90" width="9.41" height="7.50" fill="#00ff88"/>
<rect x="474.17" y="237.70" width="9.41" height="4.10" fill="#00ffb5"/>
<rect x="474.17" y="241.10" width="9.41" height="2.40" fill="#00ff99"/>
<rect x="474.17" y="242.80" width="9.41" height="2.40" fill="#00ff8c"/>
<rect x="474.17" y="244.50" width="9.41" height="7.50" fill="#00ff7d"/>
<rect x="474.17" y="251.30" width="9.41" height="4.10" fill="#14ff71"/>
<rect x="474.17" y="254.70" width="9.41" height="10.90" fill="#3cff59"/>
<rect x="474.17" y="264.90" width="9.41" height="4.10" fill="#0fff74"/>
<rect x="474.17" y="268.30" width="9.41" height="7.50" fill="#1eff6b"/>
<rect x="474.17" y="275.10" width="9.41" height="4.10" fill="#3cff59"/>
<rect x="474.17" y="278.50" width="9.41" height="4.10" fill="#00ff7d"/>
<rect x="474.17" y="281.90" width="9.41" height="4.10" fill="#00ff8b"/>
<rect x="474.17" y="285.30" width="9.41" height="14.30" fill="#00ff92"/>
<rect x="474.17" y="298.90" width="9.41" height="7.50" fill="#00ff8e"/>
<rect x="474.17" y="305.70" width="9.41" height="54.00" fill="#00ff88"/>
<rect x="482.88" y="213.30" width="9.41" height="38.70" fill="#00ff7d"/>
<rect x="482.88" y="251.30" width="9.41" height="4.10" fill="#14ff71"/>
<rect x="482.88" y="254.70" width="9.41" height="7.50" fill="#3cff59"/>
<rect x="482.88" y="261.50" width="9.41" height="7.50" fill="#4bff4f"/>
<rect x="482.88" y="268.30" width="9.41" height="4.10" fill="#53ff4b"/>
<rect x="482.88" y="271.70" width="9.41" height="4.10" fill="#1eff6b"/>
<rect x="482.88" y="275.10" width="9.41" height="4.10" fill="#00ff7d"/>
<rect x="482.88" y="278.50" width="9.41" height="4.10" fill="#00ffa7"/>
<rect x="482.88" y="281.90" width="9.41" height="17.70" fill="#00ffb5"/>
<rect x="482.88" y="298.90" width="9.41" height="4.10" fill="#00ffae"/>
<rect x="482.88" y="302.30" width="9.41" height="4.10" fill="#00ffaa"/>
<rect x="482.88" y="305.70" width="9.41" height="21.10" fill="#00ffa0"/>
<rect x="482.88" y="326.10" width="9.41" height="33.60" fill="#00ff96"/>
<rect x="491.59" y="213.30" width="9.41" height="23.40" fill="#00ff7d"/>
<rect x="491.59" y="236.00" width="9.41" height="2.40" fill="#34ff5d"/>
<rect x="491.59" y="237.70" width="9.41" height="7.50" fill="#00ff7d"/>
<rect x="491.59" y="244.50" width="9.41" height="4.10" fill="#00ff90"/>
<rect x="491.59" y="247.90" width="9.41" height="4.10" fill="#00ff86"/>
<rect x="491.59" y="251.30" width="9.41" height="4.10" fill="#00ff7d"/>
<rect x="491.59" y="254.70" width="9.41" height="4.10" fill="#3cff59"/>
<rect x="491.59" y="258.10" width="9.41" height="7.50" fill="#4bff4f"/>
<rect x="491.59" y="264.90" width="9.41" height="7.50" fill="#3cff59"/>
<rect x="491.59" y="271.70" width="9.41" height="4.10" fill="#2dff62"/>
<rect x="491.59" y="275.10" width="9.41" height="4.10" fill="#1eff6b"/>
<rect x="491.59" y="278.50" width="9.41" height="4.10" fill="#00ff7d"/>
<rect x="491.59" y="281.90" width="9.41" height="4.10" fill="#00ff8b"/>
<rect x="491.59" y="285.30" width="9.41" height="10.90" fill="#00ff92"/>
<rect x="491.59" y="295.50" width="9.41" height="4.10" fill="#00ff8e"/>
<rect x="491.59" y="298.90" width="9.41" height="4.10" fill="#00ff8b"/>
<rect x="491.59" y="302.30" width="9.41" height="57.40" fill="#00ff85"/>
<rect x="500.30" y="213.30" width="9.41" height="18.30" fill="#00ff7d"/>
<rect x="500.30" y="230.90" width="9.41" height="2.40" fill="#40ff56"/>
<rect x="500.30" y="232.60" width="9.41" height="16.00" fill="#00ff7d"/>
<rect x="500.30" y="247.90" width="9.41" height="4.10" fill="#3cff59"/>
<rect x="500.30" y="251.30" width="9.41" height="7.50" fill="#92ff26"/>
<rect x="500.30" y="258.10" width="9.41" height="7.50" fill="#81ff2f"/>
<rect x="500.30" y="264.90" width="9.41" height="7.50" fill="#bfff16"/>
<rect x="500.30" y="271.70" width="9.41" height="4.10" fill="#a1ff21"/>
<rect x="500.30" y="275.10" width="9.41" height="2.40" fill="#9cff22"/>
<rect x="500.30" y="276.80" width="9.41" height="2.40" fill="#50ff4c"/>
<rect x="500.30" y="278.50" width="9.41" height="4.10" fill="#14ff71"/>
<rect x="500.30" y="281.90" width="9.41" height="4.10" fill="#00ff7d"/>
<rect x="500.30" y="285.30" width="9.41" height="14.30" fill="#00ff86"/>
<rect x="500.30" y="298.90" width="9.41" height="60.80" fill="#00ff7d"/>
<rect x="509.00" y="213.30" width="9.41" height="38.70" fill="#00ff7d"/>
<rect x="509.00" y="251.30" width="9.41" height="4.10" fill="#20ff6a"/>
<rect x="509.00" y="254.70" width="9.41" height="4.10" fill="#4bff4f"/>
<rect x="509.00" y="258.10" width="9.41" height="4.10" fill="#3cff59"/>
<rect x="509.00" y="261.50" width="9.41" height="4.10" fill="#2dff62"/>
<rect x="509.00" y="264.90" width="9.41" height="4.10" fill="#3cff59"/>
<rect x="509.00" y="268.30" width="9.41" height="4.10" fill="#2dff62"/>
<rect x="509.00" y="271.70" width="9.41" height="4.10" fill="#1eff6b"/>
<rect x="509.00" y="275.10" width="9.41" height="4.10" fill="#00ff7d"/>
<rect x="509.00" y="278.50" width="9.41" height="4.10" fill="#00ff8b"/>
<rect x="509.00" y="281.90" width="9.41" height="10.90" fill="#00ff92"/>
<rect x="509.00" y="292.10" width="9.41" height="4.10" fill="#00ff8e"/>
<rect x="509.00" y="295.50" width="9.41" height="4.10" fill="#00ff8b"/>
<rect x="509.00" y="298.90" width="9.41" height="4.10" fill="#00ff88"/>
<rect x="509.00" y="302.30" width="9.41" height="57.40" fill="#00ff84"/>
<rect x="517.71" y="213.30" width="9.41" height="38.70" fill="#00ff7d"/>
<rect x="517.71" y="251.30" width="9.41" height="4.10" fill="#14ff71"/>
<rect x="517.71" y="254.70" width="9.41" height="7.50" fill="#3cff59"/>
<rect x="517.71" y="261.50" width="9.41" height="10.90" fill="#1eff6b"/>
<rect x="517.71" y="271.70" width="9.41" height="4.10" fill="#2dff62"/>
<rect x="517.71" y="275.10" width="9.41" height="4.10" fill="#0fff74"/>
<rect x="517.71" y="278.50" width="9.41" height="4.10" fill="#00ff84"/>
<rect x="517.71" y="281.90" width="9.41" height="10.90" fill="#00ff8b"/>
<rect x="517.71" y="292.10" width="9.41" height="4.10" fill="#00ff88"/>
<rect x="517.71" y="295.50" width="9.41" height="4.10" fill="#00ff85"/>
<rect x="517.71" y="298.90" width="9.41" height="60.80" fill="#00ff83"/>
<rect x="526.42" y="213.30" width="9.41" height="25.10" fill="#00ff7d"/>
<rect x="526.42" y="237.70" width="9.41" height="17.70" fill="#00ff89"/>
<rect x="526.42" y="254.70" width="9.41" height="4.10" fill="#00ff86"/>
<rect x="526.42" y="258.10" width="9.41" height="4.10" fill="#00ff88"/>
<rect x="526.42" y="261.50" width="9.41" height="14.30" fill="#00ff7d"/>
<rect x="526.42" y="275.10" width="9.41" height="4.10" fill="#00ff82"/>
<rect x="526.42" y="278.50" width="9.41" height="4.10" fill="#00ff86"/>
<rect x="526.42" y="281.90" width="9.41" height="7.50" fill="#00ff8b"/>
<rect x="526.42" y="288.70" width="9.41" height="4.10" fill="#00ff89"/>
<rect x="526.42" y="292.10" width="9.41" height="4.10" fill="#00ff86"/>
<rect x="526.42" y="295.50" width="9.41" height="4.10" fill="#00ff84"/>
<rect x="526.42" y="298.90" width="9.41" height="60.80" fill="#00ff82"/>
<rect x="535.13" y="213.30" width="9.41" height="42.10" fill="#00ff7d"/>
<rect x="535.13" y="254.70" width="9.41" height="4.10" fill="#36ff5c"/>
<rect x="535.13" y="258.10" width="9.41" height="4.10" fill="#51ff4c"/>
<rect x="535.13" y="261.50" width="9.41" height="4.10" fill="#4bff4f"/>
<rect x="535.13" y="264.90" width="9.41" height="7.50" fill="#3cff59"/>
<rect x="535.13" y="271.70" width="9.41" height="4.10" fill="#1eff6b"/>
<rect x="535.13" y="275.10" width="9.41" height="4.10" fill="#00ff7d"/>
<rect x="535.13" y="278.50" width="9.41" height="14.30" fill="#00ff84"/>
<rect x="535.13" y="292.10" width="9.41" height="67.60" fill="#00ff7d"/>
<rect x="543.83" y="213.30" width="9.41" height="42.10" fill="#00ff7d"/>
<rect x="543.83" y="254.70" width="9.41" height="4.10" fill="#18ff6e"/>
<rect x="543.83" y="258.10" width="9.41" height="4.10" fill="#3cff59"/>
<rect x="543.83" y="261.50" width="9.41" height="4.10" fill="#0fff74"/>
<rect x="543.83" y="264.90" width="9.41" height="10.90" fill="#24ff67"/>
<rect x="543.83" y="275.10" width="9.41" height="4.10" fill="#00ff7d"/>
<rect x="543.83" y="278.50" width="9.41" height="10.90" fill="#00ff83"/>
<rect x="543.83" y="288.70" width="9.41" height="71.00" fill="#00ff7d"/>
<rect x="552.54" y="213.30" width="9.41" height="42.10" fill="#00ff7d"/>
<rect x="552.54" y="254.70" width="9.41" height="4.10" fill="#20ff6a"/>
<rect x="552.54" y="258.10" width="9.41" height="4.10" fill="#50ff4c"/>
<rect x="552.54" y="261.50" width="9.41" height="98.20" fill="#00ff7d"/>
<rect x="561.25" y="213.30" width="9.41" height="48.90" fill="#00ff7d"/>
<rect x="561.25" y="261.50" width="9.41" height="4.10" fill="#28ff65"/>
<rect x="561.25" y="264.90" width="9.41" height="94.80" fill="#00ff7d"/>
<rect x="569.96" y="213.30" width="9.41" height="48.90" fill="#00ff7d"/>
<rect x="569.96" y="261.50" width="9.41" height="4.10" fill="#18ff6e"/>
<rect x="569.96" y="264.90" width="9.41" height="4.10" fill="#20ff6a"/>
<rect x="569.96" y="268.30" width="9.41" height="4.10" fill="#64ff40"/>
<rect x="569.96" y="271.70" width="9.41" height="88.00" fill="#00ff7d"/>
<rect x="578.66" y="213.30" width="9.41" height="146.40" fill="#00ff7d"/>
<rect x="587.37" y="213.30" width="9.41" height="146.40" fill="#00ff7d"/>
<rect x="596.08" y="213.30" width="9.41" height="146.40" fill="#00ff7d"/>
<rect x="604.79" y="213.30" width="9.41" height="146.40" fill="#00ff7d"/>
<rect x="613.49" y="213.30" width="13.41" height="146.40" fill="#00ff7d"/>
</g></g>
<line x1="391.5" y1="355.0" x2="391.5" y2="352.6" stroke="#333" stroke-width="0.6"/>
<line x1="391.5" y1="217.3" x2="391.5" y2="219.70000000000002" stroke="#333" stroke-width="0.6"/>
<text x="391.5" y="369.2" font-size="10.3" text-anchor="middle" fill="#333">0</text>
<line x1="425.4" y1="355.0" x2="425.4" y2="352.6" stroke="#333" stroke-width="0.6"/>
<line x1="425.4" y1="217.3" x2="425.4" y2="219.70000000000002" stroke="#333" stroke-width="0.6"/>
<text x="425.4" y="369.2" font-size="10.3" text-anchor="middle" fill="#333">20</text>
<line x1="459.4" y1="355.0" x2="459.4" y2="352.6" stroke="#333" stroke-width="0.6"/>
<line x1="459.4" y1="217.3" x2="459.4" y2="219.70000000000002" stroke="#333" stroke-width="0.6"/>
<text x="459.4" y="369.2" font-size="10.3" text-anchor="middle" fill="#333">40</text>
<line x1="493.3" y1="355.0" x2="493.3" y2="352.6" stroke="#333" stroke-width="0.6"/>
<line x1="493.3" y1="217.3" x2="493.3" y2="219.70000000000002" stroke="#333" stroke-width="0.6"/>
<text x="493.3" y="369.2" font-size="10.3" text-anchor="middle" fill="#333">60</text>
<line x1="527.3" y1="355.0" x2="527.3" y2="352.6" stroke="#333" stroke-width="0.6"/>
<line x1="527.3" y1="217.3" x2="527.3" y2="219.70000000000002" stroke="#333" stroke-width="0.6"/>
<text x="527.3" y="369.2" font-size="10.3" text-anchor="middle" fill="#333">80</text>
<line x1="561.2" y1="355.0" x2="561.2" y2="352.6" stroke="#333" stroke-width="0.6"/>
<line x1="561.2" y1="217.3" x2="561.2" y2="219.70000000000002" stroke="#333" stroke-width="0.6"/>
<text x="561.2" y="369.2" font-size="10.3" text-anchor="middle" fill="#333">100</text>
<line x1="595.2" y1="355.0" x2="595.2" y2="352.6" stroke="#333" stroke-width="0.6"/>
<line x1="595.2" y1="217.3" x2="595.2" y2="219.70000000000002" stroke="#333" stroke-width="0.6"/>
<text x="595.2" y="369.2" font-size="10.3" text-anchor="middle" fill="#333">120</text>
<line x1="387.1" y1="218.2" x2="389.5" y2="218.2" stroke="#333" stroke-width="0.6"/>
<line x1="622.2" y1="218.2" x2="619.8000000000001" y2="218.2" stroke="#333" stroke-width="0.6"/>
<text x="383.1" y="221.8" font-size="10.3" text-anchor="end" fill="#333">0</text>
<line x1="387.1" y1="252.2" x2="389.5" y2="252.2" stroke="#333" stroke-width="0.6"/>
<line x1="622.2" y1="252.2" x2="619.8000000000001" y2="252.2" stroke="#333" stroke-width="0.6"/>
<text x="383.1" y="255.8" font-size="10.3" text-anchor="end" fill="#333">1000</text>
<line x1="387.1" y1="286.1" x2="389.5" y2="286.1" stroke="#333" stroke-width="0.6"/>
<line x1="622.2" y1="286.1" x2="619.8000000000001" y2="286.1" stroke="#333" stroke-width="0.6"/>
<text x="383.1" y="289.8" font-size="10.3" text-anchor="end" fill="#333">2000</text>
<line x1="387.1" y1="320.1" x2="389.5" y2="320.1" stroke="#333" stroke-width="0.6"/>
<line x1="622.2" y1="320.1" x2="619.8000000000001" y2="320.1" stroke="#333" stroke-width="0.6"/>
<text x="383.1" y="323.8" font-size="10.3" text-anchor="end" fill="#333">3000</text>
<line x1="387.1" y1="354.1" x2="389.5" y2="354.1" stroke="#333" stroke-width="0.6"/>
<line x1="622.2" y1="354.1" x2="619.8000000000001" y2="354.1" stroke="#333" stroke-width="0.6"/>
<text x="383.1" y="357.8" font-size="10.3" text-anchor="end" fill="#333">4000</text>
<line x1="387.1" y1="217.3" x2="387.1" y2="355.0" stroke="#5a8a6a" stroke-width="0.5"/>
<line x1="387.1" y1="355.0" x2="622.2" y2="355.0" stroke="#5a8a6a" stroke-width="0.6"/>
<text x="506.2" y="214.4" font-size="10.65" font-weight="bold" text-anchor="middle" fill="#000">c) Discriminant 2DFT 2</text>
<text x="506.1" y="383.9" font-size="10.75" text-anchor="middle" fill="#333">Spectral Repetition (Hz)</text>
<text transform="translate(355.7,284.8) rotate(-90)" font-size="10.65" text-anchor="middle" fill="#333">Frequency (Hz)</text>
<defs><linearGradient id="cb2" x1="0" y1="1" x2="0" y2="0">
<stop offset="0.0" stop-color="#000080"/>
<stop offset="0.125" stop-color="#0000ff"/>
<stop offset="0.25" stop-color="#0080ff"/>
<stop offset="0.375" stop-color="#00ffff"/>
<stop offset="0.45" stop-color="#00f5aa"/>
<stop offset="0.505" stop-color="#00ec74"/>
<stop offset="0.515" stop-color="#50ee50"/>
<stop offset="0.5625" stop-color="#96f528"/>
<stop offset="0.625" stop-color="#ffff00"/>
<stop offset="0.75" stop-color="#ff8000"/>
<stop offset="0.875" stop-color="#ff0000"/>
<stop offset="1.0" stop-color="#800000"/>
</linearGradient></defs>
<rect x="626.1" y="217.3" width="8.7" height="137.7" fill="url(#cb2)"/>
<line x1="634.8" y1="237.5" x2="633.3" y2="237.5" stroke="#333" stroke-width="0.6"/>
<line x1="626.1" y1="237.5" x2="627.6" y2="237.5" stroke="#333" stroke-width="0.6"/>
<text x="638.0" y="241.7" font-size="10" fill="#333">0.2</text>
<line x1="634.8" y1="262.1" x2="633.3" y2="262.1" stroke="#333" stroke-width="0.6"/>
<line x1="626.1" y1="262.1" x2="627.6" y2="262.1" stroke="#333" stroke-width="0.6"/>
<text x="638.0" y="266.3" font-size="10" fill="#333">0.1</text>
<line x1="634.8" y1="286.7" x2="633.3" y2="286.7" stroke="#333" stroke-width="0.6"/>
<line x1="626.1" y1="286.7" x2="627.6" y2="286.7" stroke="#333" stroke-width="0.6"/>
<text x="638.0" y="290.9" font-size="10" fill="#333">0</text>
<line x1="634.8" y1="311.3" x2="633.3" y2="311.3" stroke="#333" stroke-width="0.6"/>
<line x1="626.1" y1="311.3" x2="627.6" y2="311.3" stroke="#333" stroke-width="0.6"/>
<text x="638.0" y="315.5" font-size="10" fill="#333">-0.1</text>
<line x1="634.8" y1="335.9" x2="633.3" y2="335.9" stroke="#333" stroke-width="0.6"/>
<line x1="626.1" y1="335.9" x2="627.6" y2="335.9" stroke="#333" stroke-width="0.6"/>
<text x="638.0" y="340.1" font-size="10" fill="#333">-0.2</text>
<text transform="translate(665.6,286.0) rotate(-90)" font-size="9.75" text-anchor="middle" fill="#333">Acceleration magnitude (a.u.)</text>
</svg>
</body></html>
